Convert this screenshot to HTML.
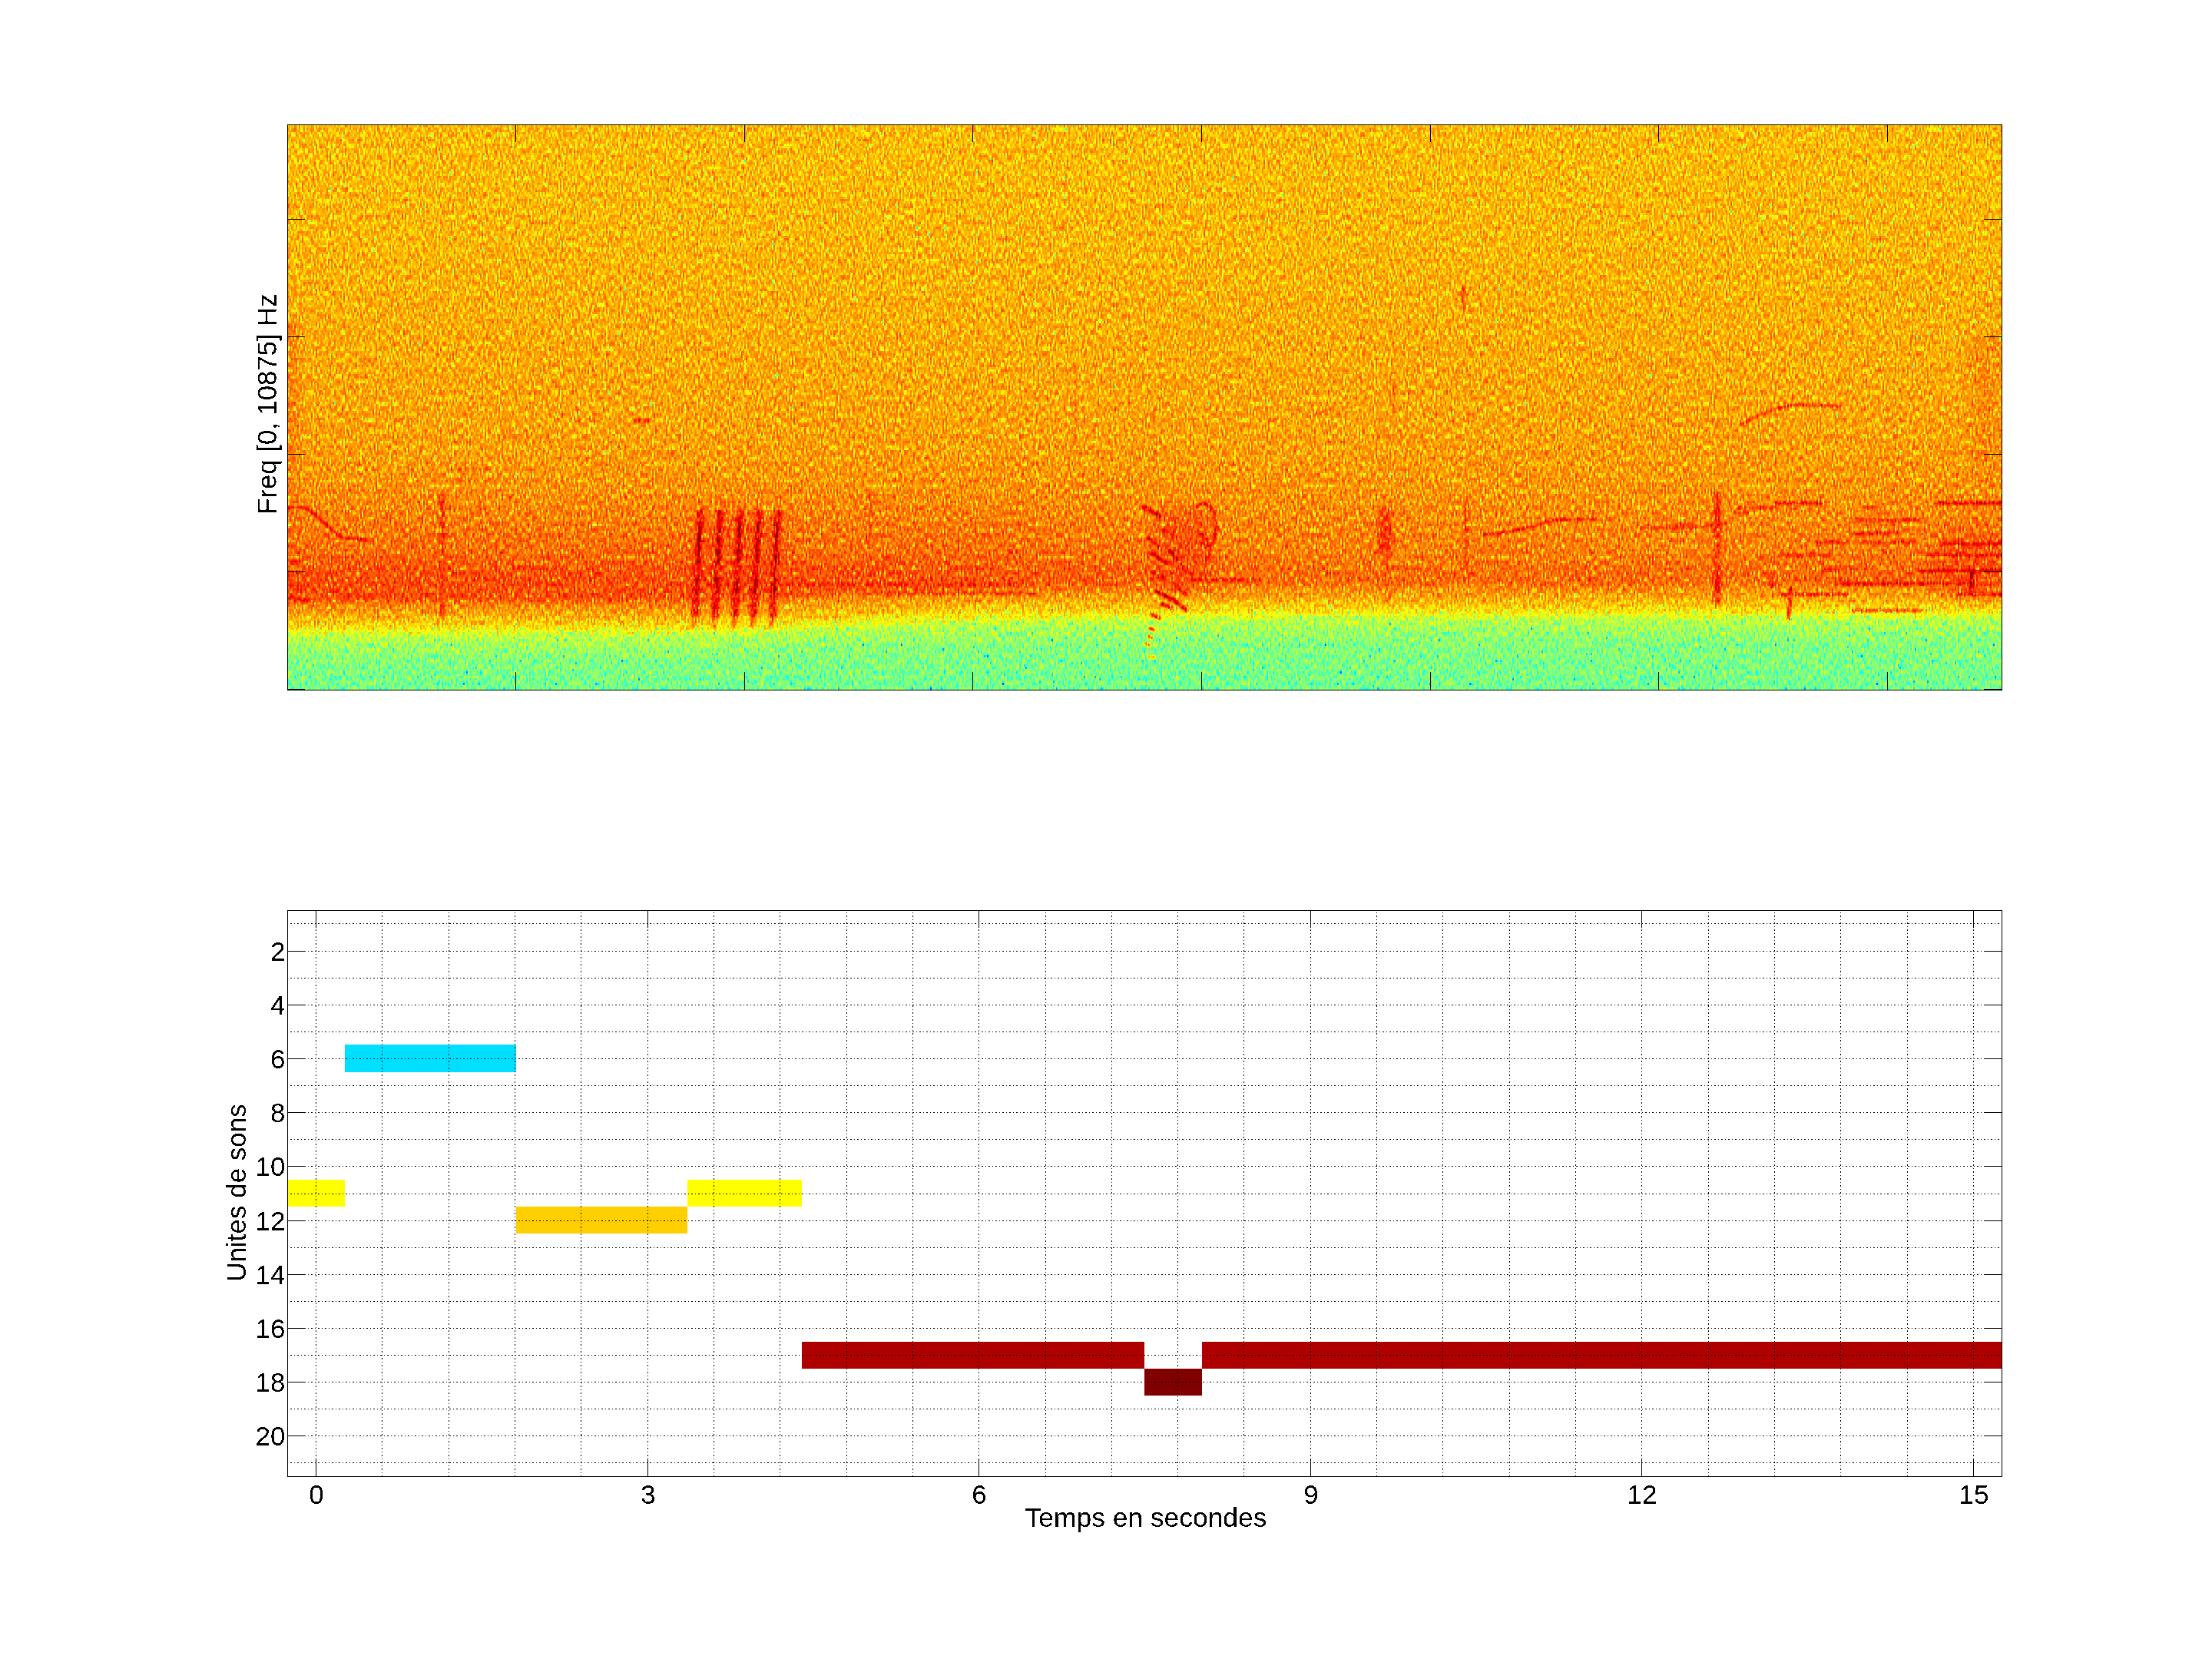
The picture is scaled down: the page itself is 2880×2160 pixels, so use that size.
<!DOCTYPE html><html><head><meta charset="utf-8"><title>Figure</title><style>
html,body{margin:0;padding:0;background:#fff;}body{width:2880px;height:2160px;overflow:hidden;}
svg{display:block;}text{font-family:"Liberation Sans",Arial,Helvetica,sans-serif;font-size:35px;fill:#000;}
</style></head><body>
<svg width="2880" height="2160" viewBox="0 0 2880 2160">
<rect x="0" y="0" width="2880" height="2160" fill="#fff"/>
<defs>
<linearGradient id="s0" x1="0" y1="0" x2="0" y2="1"><stop offset="0.0000" stop-color="#b0b0b0"/><stop offset="0.1864" stop-color="#b1b1b1"/><stop offset="0.3905" stop-color="#b4b4b4"/><stop offset="0.5265" stop-color="#b6b6b6"/><stop offset="0.5946" stop-color="#b8b8b8"/><stop offset="0.6490" stop-color="#bbbbbb"/><stop offset="0.7034" stop-color="#c0c0c0"/><stop offset="0.7578" stop-color="#c4c4c4"/><stop offset="0.7918" stop-color="#cbcbcb"/><stop offset="0.8381" stop-color="#cbcbcb"/><stop offset="0.8517" stop-color="#bdbdbd"/><stop offset="0.8680" stop-color="#b4b4b4"/><stop offset="0.8816" stop-color="#acacac"/><stop offset="0.8925" stop-color="#a2a2a2"/><stop offset="0.8993" stop-color="#989898"/><stop offset="0.9088" stop-color="#8e8e8e"/><stop offset="0.9469" stop-color="#818181"/><stop offset="1.0000" stop-color="#7c7c7c"/></linearGradient><linearGradient id="s1" x1="0" y1="0" x2="0" y2="1"><stop offset="0.0000" stop-color="#b0b0b0"/><stop offset="0.1864" stop-color="#b1b1b1"/><stop offset="0.3905" stop-color="#b4b4b4"/><stop offset="0.5265" stop-color="#b6b6b6"/><stop offset="0.5946" stop-color="#b8b8b8"/><stop offset="0.6490" stop-color="#bbbbbb"/><stop offset="0.7034" stop-color="#c0c0c0"/><stop offset="0.7578" stop-color="#c4c4c4"/><stop offset="0.7918" stop-color="#cbcbcb"/><stop offset="0.8381" stop-color="#cbcbcb"/><stop offset="0.8517" stop-color="#bdbdbd"/><stop offset="0.8680" stop-color="#b4b4b4"/><stop offset="0.8816" stop-color="#acacac"/><stop offset="0.8925" stop-color="#a2a2a2"/><stop offset="0.8993" stop-color="#989898"/><stop offset="0.9088" stop-color="#8e8e8e"/><stop offset="0.9469" stop-color="#818181"/><stop offset="1.0000" stop-color="#7c7c7c"/></linearGradient><linearGradient id="s2" x1="0" y1="0" x2="0" y2="1"><stop offset="0.0000" stop-color="#b0b0b0"/><stop offset="0.1864" stop-color="#b1b1b1"/><stop offset="0.3905" stop-color="#b4b4b4"/><stop offset="0.5265" stop-color="#b6b6b6"/><stop offset="0.5946" stop-color="#b8b8b8"/><stop offset="0.6490" stop-color="#bbbbbb"/><stop offset="0.7034" stop-color="#c0c0c0"/><stop offset="0.7578" stop-color="#c4c4c4"/><stop offset="0.7918" stop-color="#cbcbcb"/><stop offset="0.8381" stop-color="#cbcbcb"/><stop offset="0.8517" stop-color="#bdbdbd"/><stop offset="0.8680" stop-color="#b4b4b4"/><stop offset="0.8816" stop-color="#acacac"/><stop offset="0.8925" stop-color="#a2a2a2"/><stop offset="0.8993" stop-color="#989898"/><stop offset="0.9088" stop-color="#8e8e8e"/><stop offset="0.9469" stop-color="#818181"/><stop offset="1.0000" stop-color="#7c7c7c"/></linearGradient><linearGradient id="s3" x1="0" y1="0" x2="0" y2="1"><stop offset="0.0000" stop-color="#b0b0b0"/><stop offset="0.1864" stop-color="#b1b1b1"/><stop offset="0.3905" stop-color="#b4b4b4"/><stop offset="0.5265" stop-color="#b6b6b6"/><stop offset="0.5946" stop-color="#b8b8b8"/><stop offset="0.6490" stop-color="#bbbbbb"/><stop offset="0.7034" stop-color="#c0c0c0"/><stop offset="0.7578" stop-color="#c4c4c4"/><stop offset="0.7918" stop-color="#cbcbcb"/><stop offset="0.8381" stop-color="#cbcbcb"/><stop offset="0.8517" stop-color="#bdbdbd"/><stop offset="0.8680" stop-color="#b4b4b4"/><stop offset="0.8816" stop-color="#acacac"/><stop offset="0.8925" stop-color="#a2a2a2"/><stop offset="0.8993" stop-color="#989898"/><stop offset="0.9088" stop-color="#8e8e8e"/><stop offset="0.9469" stop-color="#818181"/><stop offset="1.0000" stop-color="#7c7c7c"/></linearGradient><linearGradient id="s4" x1="0" y1="0" x2="0" y2="1"><stop offset="0.0000" stop-color="#b0b0b0"/><stop offset="0.1864" stop-color="#b1b1b1"/><stop offset="0.3905" stop-color="#b4b4b4"/><stop offset="0.5265" stop-color="#b6b6b6"/><stop offset="0.5946" stop-color="#b8b8b8"/><stop offset="0.6490" stop-color="#bbbbbb"/><stop offset="0.7034" stop-color="#c0c0c0"/><stop offset="0.7578" stop-color="#c4c4c4"/><stop offset="0.7918" stop-color="#cbcbcb"/><stop offset="0.8381" stop-color="#cbcbcb"/><stop offset="0.8517" stop-color="#bdbdbd"/><stop offset="0.8680" stop-color="#b4b4b4"/><stop offset="0.8816" stop-color="#acacac"/><stop offset="0.8925" stop-color="#a2a2a2"/><stop offset="0.8993" stop-color="#989898"/><stop offset="0.9088" stop-color="#8d8d8d"/><stop offset="0.9469" stop-color="#818181"/><stop offset="1.0000" stop-color="#7c7c7c"/></linearGradient><linearGradient id="s5" x1="0" y1="0" x2="0" y2="1"><stop offset="0.0000" stop-color="#b0b0b0"/><stop offset="0.1864" stop-color="#b1b1b1"/><stop offset="0.3905" stop-color="#b4b4b4"/><stop offset="0.5265" stop-color="#b6b6b6"/><stop offset="0.5946" stop-color="#b8b8b8"/><stop offset="0.6490" stop-color="#bbbbbb"/><stop offset="0.7034" stop-color="#c0c0c0"/><stop offset="0.7578" stop-color="#c4c4c4"/><stop offset="0.7918" stop-color="#cbcbcb"/><stop offset="0.8381" stop-color="#cbcbcb"/><stop offset="0.8517" stop-color="#bdbdbd"/><stop offset="0.8680" stop-color="#b4b4b4"/><stop offset="0.8816" stop-color="#acacac"/><stop offset="0.8925" stop-color="#a2a2a2"/><stop offset="0.8993" stop-color="#989898"/><stop offset="0.9088" stop-color="#8d8d8d"/><stop offset="0.9469" stop-color="#818181"/><stop offset="1.0000" stop-color="#7c7c7c"/></linearGradient><linearGradient id="s6" x1="0" y1="0" x2="0" y2="1"><stop offset="0.0000" stop-color="#b0b0b0"/><stop offset="0.1864" stop-color="#b1b1b1"/><stop offset="0.3905" stop-color="#b4b4b4"/><stop offset="0.5265" stop-color="#b6b6b6"/><stop offset="0.5946" stop-color="#b8b8b8"/><stop offset="0.6490" stop-color="#bbbbbb"/><stop offset="0.7034" stop-color="#c0c0c0"/><stop offset="0.7578" stop-color="#c4c4c4"/><stop offset="0.7918" stop-color="#cbcbcb"/><stop offset="0.8381" stop-color="#cbcbcb"/><stop offset="0.8517" stop-color="#bcbcbc"/><stop offset="0.8680" stop-color="#b4b4b4"/><stop offset="0.8816" stop-color="#acacac"/><stop offset="0.8925" stop-color="#a2a2a2"/><stop offset="0.8993" stop-color="#989898"/><stop offset="0.9088" stop-color="#8d8d8d"/><stop offset="0.9469" stop-color="#818181"/><stop offset="1.0000" stop-color="#7c7c7c"/></linearGradient><linearGradient id="s7" x1="0" y1="0" x2="0" y2="1"><stop offset="0.0000" stop-color="#b0b0b0"/><stop offset="0.1864" stop-color="#b1b1b1"/><stop offset="0.3905" stop-color="#b4b4b4"/><stop offset="0.5265" stop-color="#b6b6b6"/><stop offset="0.5946" stop-color="#b8b8b8"/><stop offset="0.6490" stop-color="#bbbbbb"/><stop offset="0.7034" stop-color="#c0c0c0"/><stop offset="0.7578" stop-color="#c4c4c4"/><stop offset="0.7918" stop-color="#cbcbcb"/><stop offset="0.8381" stop-color="#cbcbcb"/><stop offset="0.8517" stop-color="#bcbcbc"/><stop offset="0.8680" stop-color="#b4b4b4"/><stop offset="0.8816" stop-color="#acacac"/><stop offset="0.8925" stop-color="#a1a1a1"/><stop offset="0.8993" stop-color="#989898"/><stop offset="0.9088" stop-color="#8d8d8d"/><stop offset="0.9469" stop-color="#818181"/><stop offset="1.0000" stop-color="#7c7c7c"/></linearGradient><linearGradient id="s8" x1="0" y1="0" x2="0" y2="1"><stop offset="0.0000" stop-color="#b0b0b0"/><stop offset="0.1864" stop-color="#b1b1b1"/><stop offset="0.3905" stop-color="#b4b4b4"/><stop offset="0.5265" stop-color="#b6b6b6"/><stop offset="0.5946" stop-color="#b8b8b8"/><stop offset="0.6490" stop-color="#bbbbbb"/><stop offset="0.7034" stop-color="#c0c0c0"/><stop offset="0.7578" stop-color="#c4c4c4"/><stop offset="0.7918" stop-color="#cbcbcb"/><stop offset="0.8381" stop-color="#cbcbcb"/><stop offset="0.8517" stop-color="#bcbcbc"/><stop offset="0.8680" stop-color="#b4b4b4"/><stop offset="0.8816" stop-color="#acacac"/><stop offset="0.8925" stop-color="#a1a1a1"/><stop offset="0.8993" stop-color="#979797"/><stop offset="0.9088" stop-color="#8d8d8d"/><stop offset="0.9469" stop-color="#818181"/><stop offset="1.0000" stop-color="#7c7c7c"/></linearGradient><linearGradient id="s9" x1="0" y1="0" x2="0" y2="1"><stop offset="0.0000" stop-color="#b0b0b0"/><stop offset="0.1864" stop-color="#b1b1b1"/><stop offset="0.3905" stop-color="#b4b4b4"/><stop offset="0.5265" stop-color="#b6b6b6"/><stop offset="0.5946" stop-color="#b8b8b8"/><stop offset="0.6490" stop-color="#bbbbbb"/><stop offset="0.7034" stop-color="#c0c0c0"/><stop offset="0.7578" stop-color="#c4c4c4"/><stop offset="0.7918" stop-color="#cbcbcb"/><stop offset="0.8381" stop-color="#cbcbcb"/><stop offset="0.8517" stop-color="#bcbcbc"/><stop offset="0.8680" stop-color="#b4b4b4"/><stop offset="0.8816" stop-color="#acacac"/><stop offset="0.8925" stop-color="#a1a1a1"/><stop offset="0.8993" stop-color="#979797"/><stop offset="0.9088" stop-color="#8d8d8d"/><stop offset="0.9469" stop-color="#818181"/><stop offset="1.0000" stop-color="#7c7c7c"/></linearGradient><linearGradient id="s10" x1="0" y1="0" x2="0" y2="1"><stop offset="0.0000" stop-color="#b0b0b0"/><stop offset="0.1864" stop-color="#b1b1b1"/><stop offset="0.3905" stop-color="#b4b4b4"/><stop offset="0.5265" stop-color="#b6b6b6"/><stop offset="0.5946" stop-color="#b8b8b8"/><stop offset="0.6490" stop-color="#bbbbbb"/><stop offset="0.7034" stop-color="#c0c0c0"/><stop offset="0.7578" stop-color="#c4c4c4"/><stop offset="0.7918" stop-color="#cbcbcb"/><stop offset="0.8381" stop-color="#cbcbcb"/><stop offset="0.8517" stop-color="#bcbcbc"/><stop offset="0.8680" stop-color="#b4b4b4"/><stop offset="0.8816" stop-color="#acacac"/><stop offset="0.8925" stop-color="#a1a1a1"/><stop offset="0.8993" stop-color="#979797"/><stop offset="0.9088" stop-color="#8d8d8d"/><stop offset="0.9469" stop-color="#818181"/><stop offset="1.0000" stop-color="#7c7c7c"/></linearGradient><linearGradient id="s11" x1="0" y1="0" x2="0" y2="1"><stop offset="0.0000" stop-color="#b0b0b0"/><stop offset="0.1864" stop-color="#b1b1b1"/><stop offset="0.3905" stop-color="#b4b4b4"/><stop offset="0.5265" stop-color="#b6b6b6"/><stop offset="0.5946" stop-color="#b8b8b8"/><stop offset="0.6490" stop-color="#bbbbbb"/><stop offset="0.7034" stop-color="#c0c0c0"/><stop offset="0.7578" stop-color="#c4c4c4"/><stop offset="0.7918" stop-color="#cbcbcb"/><stop offset="0.8381" stop-color="#cbcbcb"/><stop offset="0.8517" stop-color="#bcbcbc"/><stop offset="0.8680" stop-color="#b4b4b4"/><stop offset="0.8816" stop-color="#acacac"/><stop offset="0.8925" stop-color="#a1a1a1"/><stop offset="0.8993" stop-color="#979797"/><stop offset="0.9088" stop-color="#8d8d8d"/><stop offset="0.9469" stop-color="#818181"/><stop offset="1.0000" stop-color="#7c7c7c"/></linearGradient><linearGradient id="s12" x1="0" y1="0" x2="0" y2="1"><stop offset="0.0000" stop-color="#b0b0b0"/><stop offset="0.1864" stop-color="#b1b1b1"/><stop offset="0.3905" stop-color="#b4b4b4"/><stop offset="0.5265" stop-color="#b6b6b6"/><stop offset="0.5946" stop-color="#b8b8b8"/><stop offset="0.6490" stop-color="#bbbbbb"/><stop offset="0.7034" stop-color="#c0c0c0"/><stop offset="0.7578" stop-color="#c4c4c4"/><stop offset="0.7918" stop-color="#cbcbcb"/><stop offset="0.8381" stop-color="#cbcbcb"/><stop offset="0.8517" stop-color="#bcbcbc"/><stop offset="0.8680" stop-color="#b4b4b4"/><stop offset="0.8816" stop-color="#acacac"/><stop offset="0.8925" stop-color="#a1a1a1"/><stop offset="0.8993" stop-color="#979797"/><stop offset="0.9088" stop-color="#8d8d8d"/><stop offset="0.9469" stop-color="#818181"/><stop offset="1.0000" stop-color="#7c7c7c"/></linearGradient><linearGradient id="s13" x1="0" y1="0" x2="0" y2="1"><stop offset="0.0000" stop-color="#b0b0b0"/><stop offset="0.1864" stop-color="#b1b1b1"/><stop offset="0.3905" stop-color="#b4b4b4"/><stop offset="0.5265" stop-color="#b6b6b6"/><stop offset="0.5946" stop-color="#b8b8b8"/><stop offset="0.6490" stop-color="#bbbbbb"/><stop offset="0.7034" stop-color="#c0c0c0"/><stop offset="0.7578" stop-color="#c4c4c4"/><stop offset="0.7918" stop-color="#cbcbcb"/><stop offset="0.8381" stop-color="#cbcbcb"/><stop offset="0.8517" stop-color="#bcbcbc"/><stop offset="0.8680" stop-color="#b4b4b4"/><stop offset="0.8816" stop-color="#ababab"/><stop offset="0.8925" stop-color="#a1a1a1"/><stop offset="0.8993" stop-color="#979797"/><stop offset="0.9088" stop-color="#8c8c8c"/><stop offset="0.9469" stop-color="#818181"/><stop offset="1.0000" stop-color="#7c7c7c"/></linearGradient><linearGradient id="s14" x1="0" y1="0" x2="0" y2="1"><stop offset="0.0000" stop-color="#b0b0b0"/><stop offset="0.1864" stop-color="#b1b1b1"/><stop offset="0.3905" stop-color="#b4b4b4"/><stop offset="0.5265" stop-color="#b6b6b6"/><stop offset="0.5946" stop-color="#b8b8b8"/><stop offset="0.6490" stop-color="#bbbbbb"/><stop offset="0.7034" stop-color="#c0c0c0"/><stop offset="0.7578" stop-color="#c4c4c4"/><stop offset="0.7918" stop-color="#cbcbcb"/><stop offset="0.8381" stop-color="#cbcbcb"/><stop offset="0.8517" stop-color="#bbbbbb"/><stop offset="0.8680" stop-color="#b4b4b4"/><stop offset="0.8816" stop-color="#ababab"/><stop offset="0.8925" stop-color="#a1a1a1"/><stop offset="0.8993" stop-color="#979797"/><stop offset="0.9088" stop-color="#8c8c8c"/><stop offset="0.9469" stop-color="#818181"/><stop offset="1.0000" stop-color="#7c7c7c"/></linearGradient><linearGradient id="s15" x1="0" y1="0" x2="0" y2="1"><stop offset="0.0000" stop-color="#b0b0b0"/><stop offset="0.1864" stop-color="#b1b1b1"/><stop offset="0.3905" stop-color="#b4b4b4"/><stop offset="0.5265" stop-color="#b6b6b6"/><stop offset="0.5946" stop-color="#b8b8b8"/><stop offset="0.6490" stop-color="#bbbbbb"/><stop offset="0.7034" stop-color="#c0c0c0"/><stop offset="0.7578" stop-color="#c4c4c4"/><stop offset="0.7918" stop-color="#cbcbcb"/><stop offset="0.8367" stop-color="#cbcbcb"/><stop offset="0.8503" stop-color="#bcbcbc"/><stop offset="0.8667" stop-color="#b4b4b4"/><stop offset="0.8803" stop-color="#acacac"/><stop offset="0.8912" stop-color="#a1a1a1"/><stop offset="0.8980" stop-color="#979797"/><stop offset="0.9075" stop-color="#8d8d8d"/><stop offset="0.9456" stop-color="#818181"/><stop offset="1.0000" stop-color="#7c7c7c"/></linearGradient><linearGradient id="s16" x1="0" y1="0" x2="0" y2="1"><stop offset="0.0000" stop-color="#b0b0b0"/><stop offset="0.1864" stop-color="#b1b1b1"/><stop offset="0.3905" stop-color="#b4b4b4"/><stop offset="0.5265" stop-color="#b6b6b6"/><stop offset="0.5946" stop-color="#b8b8b8"/><stop offset="0.6490" stop-color="#bbbbbb"/><stop offset="0.7034" stop-color="#c0c0c0"/><stop offset="0.7578" stop-color="#c4c4c4"/><stop offset="0.7918" stop-color="#cbcbcb"/><stop offset="0.8340" stop-color="#cbcbcb"/><stop offset="0.8476" stop-color="#bdbdbd"/><stop offset="0.8639" stop-color="#b4b4b4"/><stop offset="0.8776" stop-color="#acacac"/><stop offset="0.8884" stop-color="#a2a2a2"/><stop offset="0.8952" stop-color="#989898"/><stop offset="0.9048" stop-color="#8d8d8d"/><stop offset="0.9429" stop-color="#818181"/><stop offset="1.0000" stop-color="#7c7c7c"/></linearGradient><linearGradient id="s17" x1="0" y1="0" x2="0" y2="1"><stop offset="0.0000" stop-color="#b0b0b0"/><stop offset="0.1864" stop-color="#b1b1b1"/><stop offset="0.3905" stop-color="#b4b4b4"/><stop offset="0.5265" stop-color="#b6b6b6"/><stop offset="0.5946" stop-color="#b8b8b8"/><stop offset="0.6490" stop-color="#bbbbbb"/><stop offset="0.7034" stop-color="#c0c0c0"/><stop offset="0.7578" stop-color="#c4c4c4"/><stop offset="0.7918" stop-color="#cbcbcb"/><stop offset="0.8327" stop-color="#cbcbcb"/><stop offset="0.8463" stop-color="#bcbcbc"/><stop offset="0.8626" stop-color="#b4b4b4"/><stop offset="0.8762" stop-color="#acacac"/><stop offset="0.8871" stop-color="#a1a1a1"/><stop offset="0.8939" stop-color="#979797"/><stop offset="0.9034" stop-color="#8d8d8d"/><stop offset="0.9415" stop-color="#818181"/><stop offset="1.0000" stop-color="#7c7c7c"/></linearGradient><linearGradient id="s18" x1="0" y1="0" x2="0" y2="1"><stop offset="0.0000" stop-color="#b0b0b0"/><stop offset="0.1864" stop-color="#b1b1b1"/><stop offset="0.3905" stop-color="#b4b4b4"/><stop offset="0.5265" stop-color="#b6b6b6"/><stop offset="0.5946" stop-color="#b8b8b8"/><stop offset="0.6490" stop-color="#bbbbbb"/><stop offset="0.7034" stop-color="#c0c0c0"/><stop offset="0.7578" stop-color="#c4c4c4"/><stop offset="0.7918" stop-color="#cbcbcb"/><stop offset="0.8299" stop-color="#cbcbcb"/><stop offset="0.8435" stop-color="#bbbbbb"/><stop offset="0.8599" stop-color="#b4b4b4"/><stop offset="0.8735" stop-color="#ababab"/><stop offset="0.8844" stop-color="#a1a1a1"/><stop offset="0.8912" stop-color="#969696"/><stop offset="0.9007" stop-color="#8c8c8c"/><stop offset="0.9388" stop-color="#818181"/><stop offset="1.0000" stop-color="#7c7c7c"/></linearGradient><linearGradient id="s19" x1="0" y1="0" x2="0" y2="1"><stop offset="0.0000" stop-color="#b0b0b0"/><stop offset="0.1864" stop-color="#b1b1b1"/><stop offset="0.3905" stop-color="#b4b4b4"/><stop offset="0.5265" stop-color="#b6b6b6"/><stop offset="0.5946" stop-color="#b8b8b8"/><stop offset="0.6490" stop-color="#bbbbbb"/><stop offset="0.7034" stop-color="#c0c0c0"/><stop offset="0.7578" stop-color="#c4c4c4"/><stop offset="0.7918" stop-color="#cbcbcb"/><stop offset="0.8259" stop-color="#cbcbcb"/><stop offset="0.8395" stop-color="#bdbdbd"/><stop offset="0.8558" stop-color="#b4b4b4"/><stop offset="0.8694" stop-color="#acacac"/><stop offset="0.8803" stop-color="#a2a2a2"/><stop offset="0.8871" stop-color="#989898"/><stop offset="0.8966" stop-color="#8d8d8d"/><stop offset="0.9347" stop-color="#818181"/><stop offset="1.0000" stop-color="#7c7c7c"/></linearGradient><linearGradient id="s20" x1="0" y1="0" x2="0" y2="1"><stop offset="0.0000" stop-color="#b0b0b0"/><stop offset="0.1864" stop-color="#b1b1b1"/><stop offset="0.3905" stop-color="#b4b4b4"/><stop offset="0.5265" stop-color="#b6b6b6"/><stop offset="0.5946" stop-color="#b8b8b8"/><stop offset="0.6490" stop-color="#bbbbbb"/><stop offset="0.7034" stop-color="#c0c0c0"/><stop offset="0.7578" stop-color="#c4c4c4"/><stop offset="0.7918" stop-color="#cbcbcb"/><stop offset="0.8231" stop-color="#cbcbcb"/><stop offset="0.8367" stop-color="#bcbcbc"/><stop offset="0.8531" stop-color="#b4b4b4"/><stop offset="0.8667" stop-color="#acacac"/><stop offset="0.8776" stop-color="#a1a1a1"/><stop offset="0.8844" stop-color="#979797"/><stop offset="0.8939" stop-color="#8d8d8d"/><stop offset="0.9320" stop-color="#818181"/><stop offset="1.0000" stop-color="#7c7c7c"/></linearGradient><linearGradient id="s21" x1="0" y1="0" x2="0" y2="1"><stop offset="0.0000" stop-color="#b0b0b0"/><stop offset="0.1864" stop-color="#b1b1b1"/><stop offset="0.3905" stop-color="#b4b4b4"/><stop offset="0.5265" stop-color="#b6b6b6"/><stop offset="0.5946" stop-color="#b8b8b8"/><stop offset="0.6490" stop-color="#bbbbbb"/><stop offset="0.7034" stop-color="#c0c0c0"/><stop offset="0.7578" stop-color="#c4c4c4"/><stop offset="0.7918" stop-color="#cacaca"/><stop offset="0.8204" stop-color="#cacaca"/><stop offset="0.8340" stop-color="#bdbdbd"/><stop offset="0.8503" stop-color="#b4b4b4"/><stop offset="0.8639" stop-color="#acacac"/><stop offset="0.8748" stop-color="#a2a2a2"/><stop offset="0.8816" stop-color="#989898"/><stop offset="0.8912" stop-color="#8e8e8e"/><stop offset="0.9293" stop-color="#818181"/><stop offset="1.0000" stop-color="#7c7c7c"/></linearGradient><linearGradient id="s22" x1="0" y1="0" x2="0" y2="1"><stop offset="0.0000" stop-color="#b0b0b0"/><stop offset="0.1864" stop-color="#b1b1b1"/><stop offset="0.3905" stop-color="#b4b4b4"/><stop offset="0.5265" stop-color="#b6b6b6"/><stop offset="0.5946" stop-color="#b8b8b8"/><stop offset="0.6490" stop-color="#bbbbbb"/><stop offset="0.7034" stop-color="#c0c0c0"/><stop offset="0.7578" stop-color="#c4c4c4"/><stop offset="0.7918" stop-color="#cacaca"/><stop offset="0.8190" stop-color="#cacaca"/><stop offset="0.8327" stop-color="#bcbcbc"/><stop offset="0.8490" stop-color="#b4b4b4"/><stop offset="0.8626" stop-color="#acacac"/><stop offset="0.8735" stop-color="#a1a1a1"/><stop offset="0.8803" stop-color="#989898"/><stop offset="0.8898" stop-color="#8d8d8d"/><stop offset="0.9279" stop-color="#818181"/><stop offset="1.0000" stop-color="#7c7c7c"/></linearGradient><linearGradient id="s23" x1="0" y1="0" x2="0" y2="1"><stop offset="0.0000" stop-color="#b0b0b0"/><stop offset="0.1864" stop-color="#b1b1b1"/><stop offset="0.3905" stop-color="#b4b4b4"/><stop offset="0.5265" stop-color="#b6b6b6"/><stop offset="0.5946" stop-color="#b8b8b8"/><stop offset="0.6490" stop-color="#bbbbbb"/><stop offset="0.7034" stop-color="#c0c0c0"/><stop offset="0.7578" stop-color="#c4c4c4"/><stop offset="0.7918" stop-color="#c9c9c9"/><stop offset="0.8177" stop-color="#c9c9c9"/><stop offset="0.8313" stop-color="#bcbcbc"/><stop offset="0.8476" stop-color="#b4b4b4"/><stop offset="0.8612" stop-color="#acacac"/><stop offset="0.8721" stop-color="#a1a1a1"/><stop offset="0.8789" stop-color="#979797"/><stop offset="0.8884" stop-color="#8d8d8d"/><stop offset="0.9265" stop-color="#818181"/><stop offset="1.0000" stop-color="#7c7c7c"/></linearGradient><linearGradient id="s24" x1="0" y1="0" x2="0" y2="1"><stop offset="0.0000" stop-color="#b0b0b0"/><stop offset="0.1864" stop-color="#b1b1b1"/><stop offset="0.3905" stop-color="#b4b4b4"/><stop offset="0.5265" stop-color="#b6b6b6"/><stop offset="0.5946" stop-color="#b8b8b8"/><stop offset="0.6490" stop-color="#bbbbbb"/><stop offset="0.7034" stop-color="#c0c0c0"/><stop offset="0.7578" stop-color="#c4c4c4"/><stop offset="0.7918" stop-color="#c9c9c9"/><stop offset="0.8150" stop-color="#c9c9c9"/><stop offset="0.8286" stop-color="#bdbdbd"/><stop offset="0.8449" stop-color="#b4b4b4"/><stop offset="0.8585" stop-color="#acacac"/><stop offset="0.8694" stop-color="#a2a2a2"/><stop offset="0.8762" stop-color="#989898"/><stop offset="0.8857" stop-color="#8d8d8d"/><stop offset="0.9238" stop-color="#818181"/><stop offset="1.0000" stop-color="#7c7c7c"/></linearGradient><linearGradient id="s25" x1="0" y1="0" x2="0" y2="1"><stop offset="0.0000" stop-color="#b0b0b0"/><stop offset="0.1864" stop-color="#b1b1b1"/><stop offset="0.3905" stop-color="#b4b4b4"/><stop offset="0.5265" stop-color="#b6b6b6"/><stop offset="0.5946" stop-color="#b8b8b8"/><stop offset="0.6490" stop-color="#bbbbbb"/><stop offset="0.7034" stop-color="#c0c0c0"/><stop offset="0.7578" stop-color="#c4c4c4"/><stop offset="0.7918" stop-color="#c8c8c8"/><stop offset="0.8136" stop-color="#c8c8c8"/><stop offset="0.8272" stop-color="#bdbdbd"/><stop offset="0.8435" stop-color="#b4b4b4"/><stop offset="0.8571" stop-color="#acacac"/><stop offset="0.8680" stop-color="#a2a2a2"/><stop offset="0.8748" stop-color="#989898"/><stop offset="0.8844" stop-color="#8e8e8e"/><stop offset="0.9224" stop-color="#818181"/><stop offset="1.0000" stop-color="#7c7c7c"/></linearGradient><linearGradient id="s26" x1="0" y1="0" x2="0" y2="1"><stop offset="0.0000" stop-color="#b0b0b0"/><stop offset="0.1864" stop-color="#b1b1b1"/><stop offset="0.3905" stop-color="#b4b4b4"/><stop offset="0.5265" stop-color="#b6b6b6"/><stop offset="0.5946" stop-color="#b8b8b8"/><stop offset="0.6490" stop-color="#bbbbbb"/><stop offset="0.7034" stop-color="#bfbfbf"/><stop offset="0.7578" stop-color="#c3c3c3"/><stop offset="0.7918" stop-color="#c8c8c8"/><stop offset="0.8136" stop-color="#c8c8c8"/><stop offset="0.8272" stop-color="#bcbcbc"/><stop offset="0.8435" stop-color="#b4b4b4"/><stop offset="0.8571" stop-color="#acacac"/><stop offset="0.8680" stop-color="#a1a1a1"/><stop offset="0.8748" stop-color="#989898"/><stop offset="0.8844" stop-color="#8d8d8d"/><stop offset="0.9224" stop-color="#818181"/><stop offset="1.0000" stop-color="#7c7c7c"/></linearGradient><linearGradient id="s27" x1="0" y1="0" x2="0" y2="1"><stop offset="0.0000" stop-color="#b0b0b0"/><stop offset="0.1864" stop-color="#b1b1b1"/><stop offset="0.3905" stop-color="#b4b4b4"/><stop offset="0.5265" stop-color="#b6b6b6"/><stop offset="0.5946" stop-color="#b8b8b8"/><stop offset="0.6490" stop-color="#bbbbbb"/><stop offset="0.7034" stop-color="#bfbfbf"/><stop offset="0.7578" stop-color="#c2c2c2"/><stop offset="0.7918" stop-color="#c8c8c8"/><stop offset="0.8136" stop-color="#c8c8c8"/><stop offset="0.8272" stop-color="#bcbcbc"/><stop offset="0.8435" stop-color="#b4b4b4"/><stop offset="0.8571" stop-color="#acacac"/><stop offset="0.8680" stop-color="#a1a1a1"/><stop offset="0.8748" stop-color="#979797"/><stop offset="0.8844" stop-color="#8d8d8d"/><stop offset="0.9224" stop-color="#818181"/><stop offset="1.0000" stop-color="#7c7c7c"/></linearGradient><linearGradient id="s28" x1="0" y1="0" x2="0" y2="1"><stop offset="0.0000" stop-color="#b0b0b0"/><stop offset="0.1864" stop-color="#b1b1b1"/><stop offset="0.3905" stop-color="#b4b4b4"/><stop offset="0.5265" stop-color="#b6b6b6"/><stop offset="0.5946" stop-color="#b8b8b8"/><stop offset="0.6490" stop-color="#bbbbbb"/><stop offset="0.7034" stop-color="#bebebe"/><stop offset="0.7578" stop-color="#c2c2c2"/><stop offset="0.7918" stop-color="#c7c7c7"/><stop offset="0.8136" stop-color="#c7c7c7"/><stop offset="0.8272" stop-color="#bcbcbc"/><stop offset="0.8435" stop-color="#b4b4b4"/><stop offset="0.8571" stop-color="#ababab"/><stop offset="0.8680" stop-color="#a1a1a1"/><stop offset="0.8748" stop-color="#979797"/><stop offset="0.8844" stop-color="#8c8c8c"/><stop offset="0.9224" stop-color="#818181"/><stop offset="1.0000" stop-color="#7c7c7c"/></linearGradient><linearGradient id="s29" x1="0" y1="0" x2="0" y2="1"><stop offset="0.0000" stop-color="#b0b0b0"/><stop offset="0.1864" stop-color="#b1b1b1"/><stop offset="0.3905" stop-color="#b4b4b4"/><stop offset="0.5265" stop-color="#b6b6b6"/><stop offset="0.5946" stop-color="#b8b8b8"/><stop offset="0.6490" stop-color="#bbbbbb"/><stop offset="0.7034" stop-color="#bebebe"/><stop offset="0.7578" stop-color="#c1c1c1"/><stop offset="0.7918" stop-color="#c6c6c6"/><stop offset="0.8122" stop-color="#c6c6c6"/><stop offset="0.8259" stop-color="#bcbcbc"/><stop offset="0.8422" stop-color="#b4b4b4"/><stop offset="0.8558" stop-color="#acacac"/><stop offset="0.8667" stop-color="#a1a1a1"/><stop offset="0.8735" stop-color="#979797"/><stop offset="0.8830" stop-color="#8d8d8d"/><stop offset="0.9211" stop-color="#818181"/><stop offset="1.0000" stop-color="#7c7c7c"/></linearGradient><linearGradient id="s30" x1="0" y1="0" x2="0" y2="1"><stop offset="0.0000" stop-color="#b0b0b0"/><stop offset="0.1864" stop-color="#b1b1b1"/><stop offset="0.3905" stop-color="#b4b4b4"/><stop offset="0.5265" stop-color="#b6b6b6"/><stop offset="0.5946" stop-color="#b8b8b8"/><stop offset="0.6490" stop-color="#bababa"/><stop offset="0.7034" stop-color="#bebebe"/><stop offset="0.7578" stop-color="#c0c0c0"/><stop offset="0.7918" stop-color="#c6c6c6"/><stop offset="0.8109" stop-color="#c6c6c6"/><stop offset="0.8245" stop-color="#bcbcbc"/><stop offset="0.8408" stop-color="#b4b4b4"/><stop offset="0.8544" stop-color="#acacac"/><stop offset="0.8653" stop-color="#a2a2a2"/><stop offset="0.8721" stop-color="#989898"/><stop offset="0.8816" stop-color="#8d8d8d"/><stop offset="0.9197" stop-color="#818181"/><stop offset="1.0000" stop-color="#7c7c7c"/></linearGradient><linearGradient id="s31" x1="0" y1="0" x2="0" y2="1"><stop offset="0.0000" stop-color="#b0b0b0"/><stop offset="0.1864" stop-color="#b1b1b1"/><stop offset="0.3905" stop-color="#b4b4b4"/><stop offset="0.5265" stop-color="#b6b6b6"/><stop offset="0.5946" stop-color="#b8b8b8"/><stop offset="0.6490" stop-color="#bababa"/><stop offset="0.7034" stop-color="#bdbdbd"/><stop offset="0.7578" stop-color="#c0c0c0"/><stop offset="0.7918" stop-color="#c5c5c5"/><stop offset="0.8095" stop-color="#c5c5c5"/><stop offset="0.8231" stop-color="#bcbcbc"/><stop offset="0.8395" stop-color="#b4b4b4"/><stop offset="0.8531" stop-color="#acacac"/><stop offset="0.8639" stop-color="#a2a2a2"/><stop offset="0.8707" stop-color="#989898"/><stop offset="0.8803" stop-color="#8e8e8e"/><stop offset="0.9184" stop-color="#818181"/><stop offset="1.0000" stop-color="#7c7c7c"/></linearGradient><linearGradient id="s32" x1="0" y1="0" x2="0" y2="1"><stop offset="0.0000" stop-color="#b0b0b0"/><stop offset="0.1864" stop-color="#b1b1b1"/><stop offset="0.3905" stop-color="#b4b4b4"/><stop offset="0.5265" stop-color="#b6b6b6"/><stop offset="0.5946" stop-color="#b8b8b8"/><stop offset="0.6490" stop-color="#bababa"/><stop offset="0.7034" stop-color="#bdbdbd"/><stop offset="0.7578" stop-color="#bfbfbf"/><stop offset="0.7918" stop-color="#c4c4c4"/><stop offset="0.8095" stop-color="#c4c4c4"/><stop offset="0.8231" stop-color="#bcbcbc"/><stop offset="0.8395" stop-color="#b4b4b4"/><stop offset="0.8531" stop-color="#ababab"/><stop offset="0.8639" stop-color="#a1a1a1"/><stop offset="0.8707" stop-color="#979797"/><stop offset="0.8803" stop-color="#8c8c8c"/><stop offset="0.9184" stop-color="#818181"/><stop offset="1.0000" stop-color="#7c7c7c"/></linearGradient><linearGradient id="s33" x1="0" y1="0" x2="0" y2="1"><stop offset="0.0000" stop-color="#b0b0b0"/><stop offset="0.1864" stop-color="#b1b1b1"/><stop offset="0.3905" stop-color="#b4b4b4"/><stop offset="0.5265" stop-color="#b6b6b6"/><stop offset="0.5946" stop-color="#b8b8b8"/><stop offset="0.6490" stop-color="#bababa"/><stop offset="0.7034" stop-color="#bdbdbd"/><stop offset="0.7578" stop-color="#bfbfbf"/><stop offset="0.7918" stop-color="#c4c4c4"/><stop offset="0.8082" stop-color="#c4c4c4"/><stop offset="0.8218" stop-color="#bcbcbc"/><stop offset="0.8381" stop-color="#b4b4b4"/><stop offset="0.8517" stop-color="#acacac"/><stop offset="0.8626" stop-color="#a2a2a2"/><stop offset="0.8694" stop-color="#989898"/><stop offset="0.8789" stop-color="#8e8e8e"/><stop offset="0.9170" stop-color="#818181"/><stop offset="1.0000" stop-color="#7c7c7c"/></linearGradient><linearGradient id="s34" x1="0" y1="0" x2="0" y2="1"><stop offset="0.0000" stop-color="#b0b0b0"/><stop offset="0.1864" stop-color="#b1b1b1"/><stop offset="0.3905" stop-color="#b4b4b4"/><stop offset="0.5265" stop-color="#b6b6b6"/><stop offset="0.5946" stop-color="#b8b8b8"/><stop offset="0.6490" stop-color="#bababa"/><stop offset="0.7034" stop-color="#bdbdbd"/><stop offset="0.7578" stop-color="#bfbfbf"/><stop offset="0.7918" stop-color="#c4c4c4"/><stop offset="0.8082" stop-color="#c4c4c4"/><stop offset="0.8218" stop-color="#bcbcbc"/><stop offset="0.8381" stop-color="#b4b4b4"/><stop offset="0.8517" stop-color="#acacac"/><stop offset="0.8626" stop-color="#a2a2a2"/><stop offset="0.8694" stop-color="#989898"/><stop offset="0.8789" stop-color="#8e8e8e"/><stop offset="0.9170" stop-color="#818181"/><stop offset="1.0000" stop-color="#7c7c7c"/></linearGradient><linearGradient id="s35" x1="0" y1="0" x2="0" y2="1"><stop offset="0.0000" stop-color="#b0b0b0"/><stop offset="0.1864" stop-color="#b1b1b1"/><stop offset="0.3905" stop-color="#b4b4b4"/><stop offset="0.5265" stop-color="#b6b6b6"/><stop offset="0.5946" stop-color="#b8b8b8"/><stop offset="0.6490" stop-color="#bababa"/><stop offset="0.7034" stop-color="#bdbdbd"/><stop offset="0.7578" stop-color="#bfbfbf"/><stop offset="0.7918" stop-color="#c4c4c4"/><stop offset="0.8082" stop-color="#c4c4c4"/><stop offset="0.8218" stop-color="#bcbcbc"/><stop offset="0.8381" stop-color="#b4b4b4"/><stop offset="0.8517" stop-color="#acacac"/><stop offset="0.8626" stop-color="#a2a2a2"/><stop offset="0.8694" stop-color="#989898"/><stop offset="0.8789" stop-color="#8e8e8e"/><stop offset="0.9170" stop-color="#818181"/><stop offset="1.0000" stop-color="#7c7c7c"/></linearGradient><linearGradient id="s36" x1="0" y1="0" x2="0" y2="1"><stop offset="0.0000" stop-color="#b0b0b0"/><stop offset="0.1864" stop-color="#b1b1b1"/><stop offset="0.3905" stop-color="#b4b4b4"/><stop offset="0.5265" stop-color="#b6b6b6"/><stop offset="0.5946" stop-color="#b8b8b8"/><stop offset="0.6490" stop-color="#bababa"/><stop offset="0.7034" stop-color="#bdbdbd"/><stop offset="0.7578" stop-color="#bfbfbf"/><stop offset="0.7918" stop-color="#c4c4c4"/><stop offset="0.8082" stop-color="#c4c4c4"/><stop offset="0.8218" stop-color="#bcbcbc"/><stop offset="0.8381" stop-color="#b4b4b4"/><stop offset="0.8517" stop-color="#acacac"/><stop offset="0.8626" stop-color="#a2a2a2"/><stop offset="0.8694" stop-color="#989898"/><stop offset="0.8789" stop-color="#8d8d8d"/><stop offset="0.9170" stop-color="#818181"/><stop offset="1.0000" stop-color="#7c7c7c"/></linearGradient><linearGradient id="s37" x1="0" y1="0" x2="0" y2="1"><stop offset="0.0000" stop-color="#b0b0b0"/><stop offset="0.1864" stop-color="#b1b1b1"/><stop offset="0.3905" stop-color="#b4b4b4"/><stop offset="0.5265" stop-color="#b6b6b6"/><stop offset="0.5946" stop-color="#b8b8b8"/><stop offset="0.6490" stop-color="#bababa"/><stop offset="0.7034" stop-color="#bdbdbd"/><stop offset="0.7578" stop-color="#bfbfbf"/><stop offset="0.7918" stop-color="#c4c4c4"/><stop offset="0.8082" stop-color="#c4c4c4"/><stop offset="0.8218" stop-color="#bcbcbc"/><stop offset="0.8381" stop-color="#b4b4b4"/><stop offset="0.8517" stop-color="#acacac"/><stop offset="0.8626" stop-color="#a2a2a2"/><stop offset="0.8694" stop-color="#989898"/><stop offset="0.8789" stop-color="#8d8d8d"/><stop offset="0.9170" stop-color="#818181"/><stop offset="1.0000" stop-color="#7c7c7c"/></linearGradient><linearGradient id="s38" x1="0" y1="0" x2="0" y2="1"><stop offset="0.0000" stop-color="#b0b0b0"/><stop offset="0.1864" stop-color="#b1b1b1"/><stop offset="0.3905" stop-color="#b4b4b4"/><stop offset="0.5265" stop-color="#b6b6b6"/><stop offset="0.5946" stop-color="#b8b8b8"/><stop offset="0.6490" stop-color="#bababa"/><stop offset="0.7034" stop-color="#bdbdbd"/><stop offset="0.7578" stop-color="#bfbfbf"/><stop offset="0.7918" stop-color="#c4c4c4"/><stop offset="0.8082" stop-color="#c4c4c4"/><stop offset="0.8218" stop-color="#bcbcbc"/><stop offset="0.8381" stop-color="#b4b4b4"/><stop offset="0.8517" stop-color="#acacac"/><stop offset="0.8626" stop-color="#a2a2a2"/><stop offset="0.8694" stop-color="#989898"/><stop offset="0.8789" stop-color="#8d8d8d"/><stop offset="0.9170" stop-color="#818181"/><stop offset="1.0000" stop-color="#7c7c7c"/></linearGradient><linearGradient id="s39" x1="0" y1="0" x2="0" y2="1"><stop offset="0.0000" stop-color="#b0b0b0"/><stop offset="0.1864" stop-color="#b1b1b1"/><stop offset="0.3905" stop-color="#b4b4b4"/><stop offset="0.5265" stop-color="#b6b6b6"/><stop offset="0.5946" stop-color="#b8b8b8"/><stop offset="0.6490" stop-color="#bababa"/><stop offset="0.7034" stop-color="#bdbdbd"/><stop offset="0.7578" stop-color="#bfbfbf"/><stop offset="0.7918" stop-color="#c4c4c4"/><stop offset="0.8082" stop-color="#c4c4c4"/><stop offset="0.8218" stop-color="#bcbcbc"/><stop offset="0.8381" stop-color="#b4b4b4"/><stop offset="0.8517" stop-color="#acacac"/><stop offset="0.8626" stop-color="#a2a2a2"/><stop offset="0.8694" stop-color="#989898"/><stop offset="0.8789" stop-color="#8d8d8d"/><stop offset="0.9170" stop-color="#818181"/><stop offset="1.0000" stop-color="#7c7c7c"/></linearGradient><linearGradient id="s40" x1="0" y1="0" x2="0" y2="1"><stop offset="0.0000" stop-color="#b0b0b0"/><stop offset="0.1864" stop-color="#b1b1b1"/><stop offset="0.3905" stop-color="#b4b4b4"/><stop offset="0.5265" stop-color="#b6b6b6"/><stop offset="0.5946" stop-color="#b8b8b8"/><stop offset="0.6490" stop-color="#bababa"/><stop offset="0.7034" stop-color="#bdbdbd"/><stop offset="0.7578" stop-color="#bfbfbf"/><stop offset="0.7918" stop-color="#c4c4c4"/><stop offset="0.8082" stop-color="#c4c4c4"/><stop offset="0.8218" stop-color="#bcbcbc"/><stop offset="0.8381" stop-color="#b4b4b4"/><stop offset="0.8517" stop-color="#acacac"/><stop offset="0.8626" stop-color="#a2a2a2"/><stop offset="0.8694" stop-color="#989898"/><stop offset="0.8789" stop-color="#8d8d8d"/><stop offset="0.9170" stop-color="#818181"/><stop offset="1.0000" stop-color="#7c7c7c"/></linearGradient><linearGradient id="s41" x1="0" y1="0" x2="0" y2="1"><stop offset="0.0000" stop-color="#b0b0b0"/><stop offset="0.1864" stop-color="#b1b1b1"/><stop offset="0.3905" stop-color="#b4b4b4"/><stop offset="0.5265" stop-color="#b6b6b6"/><stop offset="0.5946" stop-color="#b8b8b8"/><stop offset="0.6490" stop-color="#bababa"/><stop offset="0.7034" stop-color="#bdbdbd"/><stop offset="0.7578" stop-color="#bfbfbf"/><stop offset="0.7918" stop-color="#c4c4c4"/><stop offset="0.8082" stop-color="#c4c4c4"/><stop offset="0.8218" stop-color="#bcbcbc"/><stop offset="0.8381" stop-color="#b4b4b4"/><stop offset="0.8517" stop-color="#acacac"/><stop offset="0.8626" stop-color="#a2a2a2"/><stop offset="0.8694" stop-color="#989898"/><stop offset="0.8789" stop-color="#8d8d8d"/><stop offset="0.9170" stop-color="#818181"/><stop offset="1.0000" stop-color="#7c7c7c"/></linearGradient><linearGradient id="s42" x1="0" y1="0" x2="0" y2="1"><stop offset="0.0000" stop-color="#b0b0b0"/><stop offset="0.1864" stop-color="#b1b1b1"/><stop offset="0.3905" stop-color="#b4b4b4"/><stop offset="0.5265" stop-color="#b6b6b6"/><stop offset="0.5946" stop-color="#b8b8b8"/><stop offset="0.6490" stop-color="#bababa"/><stop offset="0.7034" stop-color="#bdbdbd"/><stop offset="0.7578" stop-color="#bfbfbf"/><stop offset="0.7918" stop-color="#c4c4c4"/><stop offset="0.8082" stop-color="#c4c4c4"/><stop offset="0.8218" stop-color="#bcbcbc"/><stop offset="0.8381" stop-color="#b4b4b4"/><stop offset="0.8517" stop-color="#acacac"/><stop offset="0.8626" stop-color="#a1a1a1"/><stop offset="0.8694" stop-color="#989898"/><stop offset="0.8789" stop-color="#8d8d8d"/><stop offset="0.9170" stop-color="#818181"/><stop offset="1.0000" stop-color="#7c7c7c"/></linearGradient><linearGradient id="s43" x1="0" y1="0" x2="0" y2="1"><stop offset="0.0000" stop-color="#b0b0b0"/><stop offset="0.1864" stop-color="#b1b1b1"/><stop offset="0.3905" stop-color="#b4b4b4"/><stop offset="0.5265" stop-color="#b6b6b6"/><stop offset="0.5946" stop-color="#b8b8b8"/><stop offset="0.6490" stop-color="#bababa"/><stop offset="0.7034" stop-color="#bdbdbd"/><stop offset="0.7578" stop-color="#bfbfbf"/><stop offset="0.7918" stop-color="#c4c4c4"/><stop offset="0.8082" stop-color="#c4c4c4"/><stop offset="0.8218" stop-color="#bcbcbc"/><stop offset="0.8381" stop-color="#b4b4b4"/><stop offset="0.8517" stop-color="#acacac"/><stop offset="0.8626" stop-color="#a1a1a1"/><stop offset="0.8694" stop-color="#989898"/><stop offset="0.8789" stop-color="#8d8d8d"/><stop offset="0.9170" stop-color="#818181"/><stop offset="1.0000" stop-color="#7c7c7c"/></linearGradient><linearGradient id="s44" x1="0" y1="0" x2="0" y2="1"><stop offset="0.0000" stop-color="#b0b0b0"/><stop offset="0.1864" stop-color="#b1b1b1"/><stop offset="0.3905" stop-color="#b4b4b4"/><stop offset="0.5265" stop-color="#b6b6b6"/><stop offset="0.5946" stop-color="#b8b8b8"/><stop offset="0.6490" stop-color="#bababa"/><stop offset="0.7034" stop-color="#bdbdbd"/><stop offset="0.7578" stop-color="#bfbfbf"/><stop offset="0.7918" stop-color="#c4c4c4"/><stop offset="0.8082" stop-color="#c4c4c4"/><stop offset="0.8218" stop-color="#bcbcbc"/><stop offset="0.8381" stop-color="#b4b4b4"/><stop offset="0.8517" stop-color="#acacac"/><stop offset="0.8626" stop-color="#a1a1a1"/><stop offset="0.8694" stop-color="#989898"/><stop offset="0.8789" stop-color="#8d8d8d"/><stop offset="0.9170" stop-color="#818181"/><stop offset="1.0000" stop-color="#7c7c7c"/></linearGradient><linearGradient id="s45" x1="0" y1="0" x2="0" y2="1"><stop offset="0.0000" stop-color="#b0b0b0"/><stop offset="0.1864" stop-color="#b1b1b1"/><stop offset="0.3905" stop-color="#b4b4b4"/><stop offset="0.5265" stop-color="#b6b6b6"/><stop offset="0.5946" stop-color="#b8b8b8"/><stop offset="0.6490" stop-color="#bababa"/><stop offset="0.7034" stop-color="#bdbdbd"/><stop offset="0.7578" stop-color="#bfbfbf"/><stop offset="0.7918" stop-color="#c4c4c4"/><stop offset="0.8082" stop-color="#c4c4c4"/><stop offset="0.8218" stop-color="#bcbcbc"/><stop offset="0.8381" stop-color="#b4b4b4"/><stop offset="0.8517" stop-color="#acacac"/><stop offset="0.8626" stop-color="#a1a1a1"/><stop offset="0.8694" stop-color="#979797"/><stop offset="0.8789" stop-color="#8d8d8d"/><stop offset="0.9170" stop-color="#818181"/><stop offset="1.0000" stop-color="#7c7c7c"/></linearGradient><linearGradient id="s46" x1="0" y1="0" x2="0" y2="1"><stop offset="0.0000" stop-color="#b0b0b0"/><stop offset="0.1864" stop-color="#b1b1b1"/><stop offset="0.3905" stop-color="#b4b4b4"/><stop offset="0.5265" stop-color="#b6b6b6"/><stop offset="0.5946" stop-color="#b8b8b8"/><stop offset="0.6490" stop-color="#bababa"/><stop offset="0.7034" stop-color="#bdbdbd"/><stop offset="0.7578" stop-color="#bfbfbf"/><stop offset="0.7918" stop-color="#c4c4c4"/><stop offset="0.8082" stop-color="#c4c4c4"/><stop offset="0.8218" stop-color="#bcbcbc"/><stop offset="0.8381" stop-color="#b4b4b4"/><stop offset="0.8517" stop-color="#acacac"/><stop offset="0.8626" stop-color="#a1a1a1"/><stop offset="0.8694" stop-color="#979797"/><stop offset="0.8789" stop-color="#8d8d8d"/><stop offset="0.9170" stop-color="#818181"/><stop offset="1.0000" stop-color="#7c7c7c"/></linearGradient><linearGradient id="s47" x1="0" y1="0" x2="0" y2="1"><stop offset="0.0000" stop-color="#b0b0b0"/><stop offset="0.1864" stop-color="#b1b1b1"/><stop offset="0.3905" stop-color="#b4b4b4"/><stop offset="0.5265" stop-color="#b6b6b6"/><stop offset="0.5946" stop-color="#b8b8b8"/><stop offset="0.6490" stop-color="#bababa"/><stop offset="0.7034" stop-color="#bdbdbd"/><stop offset="0.7578" stop-color="#bfbfbf"/><stop offset="0.7918" stop-color="#c4c4c4"/><stop offset="0.8082" stop-color="#c4c4c4"/><stop offset="0.8218" stop-color="#bcbcbc"/><stop offset="0.8381" stop-color="#b4b4b4"/><stop offset="0.8517" stop-color="#acacac"/><stop offset="0.8626" stop-color="#a1a1a1"/><stop offset="0.8694" stop-color="#979797"/><stop offset="0.8789" stop-color="#8d8d8d"/><stop offset="0.9170" stop-color="#818181"/><stop offset="1.0000" stop-color="#7c7c7c"/></linearGradient><linearGradient id="s48" x1="0" y1="0" x2="0" y2="1"><stop offset="0.0000" stop-color="#b0b0b0"/><stop offset="0.1864" stop-color="#b1b1b1"/><stop offset="0.3905" stop-color="#b4b4b4"/><stop offset="0.5265" stop-color="#b6b6b6"/><stop offset="0.5946" stop-color="#b8b8b8"/><stop offset="0.6490" stop-color="#bababa"/><stop offset="0.7034" stop-color="#bdbdbd"/><stop offset="0.7578" stop-color="#bfbfbf"/><stop offset="0.7918" stop-color="#c4c4c4"/><stop offset="0.8082" stop-color="#c4c4c4"/><stop offset="0.8218" stop-color="#bcbcbc"/><stop offset="0.8381" stop-color="#b4b4b4"/><stop offset="0.8517" stop-color="#acacac"/><stop offset="0.8626" stop-color="#a1a1a1"/><stop offset="0.8694" stop-color="#979797"/><stop offset="0.8789" stop-color="#8d8d8d"/><stop offset="0.9170" stop-color="#818181"/><stop offset="1.0000" stop-color="#7c7c7c"/></linearGradient><linearGradient id="s49" x1="0" y1="0" x2="0" y2="1"><stop offset="0.0000" stop-color="#b0b0b0"/><stop offset="0.1864" stop-color="#b1b1b1"/><stop offset="0.3905" stop-color="#b4b4b4"/><stop offset="0.5265" stop-color="#b6b6b6"/><stop offset="0.5946" stop-color="#b8b8b8"/><stop offset="0.6490" stop-color="#bababa"/><stop offset="0.7034" stop-color="#bdbdbd"/><stop offset="0.7578" stop-color="#bfbfbf"/><stop offset="0.7918" stop-color="#c4c4c4"/><stop offset="0.8082" stop-color="#c4c4c4"/><stop offset="0.8218" stop-color="#bcbcbc"/><stop offset="0.8381" stop-color="#b4b4b4"/><stop offset="0.8517" stop-color="#acacac"/><stop offset="0.8626" stop-color="#a1a1a1"/><stop offset="0.8694" stop-color="#979797"/><stop offset="0.8789" stop-color="#8d8d8d"/><stop offset="0.9170" stop-color="#818181"/><stop offset="1.0000" stop-color="#7c7c7c"/></linearGradient><linearGradient id="s50" x1="0" y1="0" x2="0" y2="1"><stop offset="0.0000" stop-color="#b0b0b0"/><stop offset="0.1864" stop-color="#b1b1b1"/><stop offset="0.3905" stop-color="#b4b4b4"/><stop offset="0.5265" stop-color="#b6b6b6"/><stop offset="0.5946" stop-color="#b8b8b8"/><stop offset="0.6490" stop-color="#bababa"/><stop offset="0.7034" stop-color="#bdbdbd"/><stop offset="0.7578" stop-color="#bfbfbf"/><stop offset="0.7918" stop-color="#c4c4c4"/><stop offset="0.8082" stop-color="#c4c4c4"/><stop offset="0.8218" stop-color="#bcbcbc"/><stop offset="0.8381" stop-color="#b4b4b4"/><stop offset="0.8517" stop-color="#acacac"/><stop offset="0.8626" stop-color="#a1a1a1"/><stop offset="0.8694" stop-color="#979797"/><stop offset="0.8789" stop-color="#8d8d8d"/><stop offset="0.9170" stop-color="#818181"/><stop offset="1.0000" stop-color="#7c7c7c"/></linearGradient><linearGradient id="s51" x1="0" y1="0" x2="0" y2="1"><stop offset="0.0000" stop-color="#b0b0b0"/><stop offset="0.1864" stop-color="#b1b1b1"/><stop offset="0.3905" stop-color="#b4b4b4"/><stop offset="0.5265" stop-color="#b6b6b6"/><stop offset="0.5946" stop-color="#b8b8b8"/><stop offset="0.6490" stop-color="#bababa"/><stop offset="0.7034" stop-color="#bdbdbd"/><stop offset="0.7578" stop-color="#c0c0c0"/><stop offset="0.7918" stop-color="#c5c5c5"/><stop offset="0.8082" stop-color="#c5c5c5"/><stop offset="0.8218" stop-color="#bcbcbc"/><stop offset="0.8381" stop-color="#b4b4b4"/><stop offset="0.8517" stop-color="#acacac"/><stop offset="0.8626" stop-color="#a1a1a1"/><stop offset="0.8694" stop-color="#979797"/><stop offset="0.8789" stop-color="#8d8d8d"/><stop offset="0.9170" stop-color="#818181"/><stop offset="1.0000" stop-color="#7c7c7c"/></linearGradient><linearGradient id="s52" x1="0" y1="0" x2="0" y2="1"><stop offset="0.0000" stop-color="#b0b0b0"/><stop offset="0.1864" stop-color="#b1b1b1"/><stop offset="0.3905" stop-color="#b4b4b4"/><stop offset="0.5265" stop-color="#b6b6b6"/><stop offset="0.5946" stop-color="#b8b8b8"/><stop offset="0.6490" stop-color="#bababa"/><stop offset="0.7034" stop-color="#bdbdbd"/><stop offset="0.7578" stop-color="#c0c0c0"/><stop offset="0.7918" stop-color="#c5c5c5"/><stop offset="0.8082" stop-color="#c5c5c5"/><stop offset="0.8218" stop-color="#bcbcbc"/><stop offset="0.8381" stop-color="#b4b4b4"/><stop offset="0.8517" stop-color="#acacac"/><stop offset="0.8626" stop-color="#a1a1a1"/><stop offset="0.8694" stop-color="#979797"/><stop offset="0.8789" stop-color="#8d8d8d"/><stop offset="0.9170" stop-color="#818181"/><stop offset="1.0000" stop-color="#7c7c7c"/></linearGradient><linearGradient id="s53" x1="0" y1="0" x2="0" y2="1"><stop offset="0.0000" stop-color="#b0b0b0"/><stop offset="0.1864" stop-color="#b1b1b1"/><stop offset="0.3905" stop-color="#b4b4b4"/><stop offset="0.5265" stop-color="#b6b6b6"/><stop offset="0.5946" stop-color="#b8b8b8"/><stop offset="0.6490" stop-color="#bababa"/><stop offset="0.7034" stop-color="#bebebe"/><stop offset="0.7578" stop-color="#c0c0c0"/><stop offset="0.7918" stop-color="#c5c5c5"/><stop offset="0.8082" stop-color="#c5c5c5"/><stop offset="0.8218" stop-color="#bcbcbc"/><stop offset="0.8381" stop-color="#b4b4b4"/><stop offset="0.8517" stop-color="#acacac"/><stop offset="0.8626" stop-color="#a1a1a1"/><stop offset="0.8694" stop-color="#979797"/><stop offset="0.8789" stop-color="#8c8c8c"/><stop offset="0.9170" stop-color="#818181"/><stop offset="1.0000" stop-color="#7c7c7c"/></linearGradient><linearGradient id="s54" x1="0" y1="0" x2="0" y2="1"><stop offset="0.0000" stop-color="#b0b0b0"/><stop offset="0.1864" stop-color="#b1b1b1"/><stop offset="0.3905" stop-color="#b4b4b4"/><stop offset="0.5265" stop-color="#b6b6b6"/><stop offset="0.5946" stop-color="#b8b8b8"/><stop offset="0.6490" stop-color="#bbbbbb"/><stop offset="0.7034" stop-color="#bebebe"/><stop offset="0.7578" stop-color="#c1c1c1"/><stop offset="0.7918" stop-color="#c6c6c6"/><stop offset="0.8082" stop-color="#c6c6c6"/><stop offset="0.8218" stop-color="#bcbcbc"/><stop offset="0.8381" stop-color="#b4b4b4"/><stop offset="0.8517" stop-color="#ababab"/><stop offset="0.8626" stop-color="#a1a1a1"/><stop offset="0.8694" stop-color="#979797"/><stop offset="0.8789" stop-color="#8c8c8c"/><stop offset="0.9170" stop-color="#818181"/><stop offset="1.0000" stop-color="#7c7c7c"/></linearGradient><linearGradient id="s55" x1="0" y1="0" x2="0" y2="1"><stop offset="0.0000" stop-color="#b0b0b0"/><stop offset="0.1864" stop-color="#b1b1b1"/><stop offset="0.3905" stop-color="#b4b4b4"/><stop offset="0.5265" stop-color="#b6b6b6"/><stop offset="0.5946" stop-color="#b8b8b8"/><stop offset="0.6490" stop-color="#bbbbbb"/><stop offset="0.7034" stop-color="#bebebe"/><stop offset="0.7578" stop-color="#c1c1c1"/><stop offset="0.7918" stop-color="#c6c6c6"/><stop offset="0.8082" stop-color="#c6c6c6"/><stop offset="0.8218" stop-color="#bcbcbc"/><stop offset="0.8381" stop-color="#b4b4b4"/><stop offset="0.8517" stop-color="#ababab"/><stop offset="0.8626" stop-color="#a1a1a1"/><stop offset="0.8694" stop-color="#979797"/><stop offset="0.8789" stop-color="#8c8c8c"/><stop offset="0.9170" stop-color="#818181"/><stop offset="1.0000" stop-color="#7c7c7c"/></linearGradient><linearGradient id="s56" x1="0" y1="0" x2="0" y2="1"><stop offset="0.0000" stop-color="#b0b0b0"/><stop offset="0.1864" stop-color="#b1b1b1"/><stop offset="0.3905" stop-color="#b4b4b4"/><stop offset="0.5265" stop-color="#b6b6b6"/><stop offset="0.5946" stop-color="#b8b8b8"/><stop offset="0.6490" stop-color="#bbbbbb"/><stop offset="0.7034" stop-color="#bebebe"/><stop offset="0.7578" stop-color="#c2c2c2"/><stop offset="0.7918" stop-color="#c6c6c6"/><stop offset="0.8082" stop-color="#c6c6c6"/><stop offset="0.8218" stop-color="#bbbbbb"/><stop offset="0.8381" stop-color="#b4b4b4"/><stop offset="0.8517" stop-color="#ababab"/><stop offset="0.8626" stop-color="#a1a1a1"/><stop offset="0.8694" stop-color="#979797"/><stop offset="0.8789" stop-color="#8c8c8c"/><stop offset="0.9170" stop-color="#818181"/><stop offset="1.0000" stop-color="#7c7c7c"/></linearGradient><linearGradient id="s57" x1="0" y1="0" x2="0" y2="1"><stop offset="0.0000" stop-color="#b0b0b0"/><stop offset="0.1864" stop-color="#b1b1b1"/><stop offset="0.3905" stop-color="#b4b4b4"/><stop offset="0.5265" stop-color="#b6b6b6"/><stop offset="0.5946" stop-color="#b8b8b8"/><stop offset="0.6490" stop-color="#bbbbbb"/><stop offset="0.7034" stop-color="#bfbfbf"/><stop offset="0.7578" stop-color="#c2c2c2"/><stop offset="0.7918" stop-color="#c7c7c7"/><stop offset="0.8082" stop-color="#c7c7c7"/><stop offset="0.8218" stop-color="#bbbbbb"/><stop offset="0.8381" stop-color="#b4b4b4"/><stop offset="0.8517" stop-color="#ababab"/><stop offset="0.8626" stop-color="#a1a1a1"/><stop offset="0.8694" stop-color="#969696"/><stop offset="0.8789" stop-color="#8c8c8c"/><stop offset="0.9170" stop-color="#818181"/><stop offset="1.0000" stop-color="#7c7c7c"/></linearGradient><linearGradient id="s58" x1="0" y1="0" x2="0" y2="1"><stop offset="0.0000" stop-color="#b0b0b0"/><stop offset="0.1864" stop-color="#b1b1b1"/><stop offset="0.3905" stop-color="#b4b4b4"/><stop offset="0.5265" stop-color="#b6b6b6"/><stop offset="0.5946" stop-color="#b8b8b8"/><stop offset="0.6490" stop-color="#bbbbbb"/><stop offset="0.7034" stop-color="#bfbfbf"/><stop offset="0.7578" stop-color="#c2c2c2"/><stop offset="0.7918" stop-color="#c7c7c7"/><stop offset="0.8082" stop-color="#c7c7c7"/><stop offset="0.8218" stop-color="#bbbbbb"/><stop offset="0.8381" stop-color="#b4b4b4"/><stop offset="0.8517" stop-color="#ababab"/><stop offset="0.8626" stop-color="#a1a1a1"/><stop offset="0.8694" stop-color="#969696"/><stop offset="0.8789" stop-color="#8c8c8c"/><stop offset="0.9170" stop-color="#818181"/><stop offset="1.0000" stop-color="#7c7c7c"/></linearGradient><linearGradient id="s59" x1="0" y1="0" x2="0" y2="1"><stop offset="0.0000" stop-color="#b0b0b0"/><stop offset="0.1864" stop-color="#b1b1b1"/><stop offset="0.3905" stop-color="#b4b4b4"/><stop offset="0.5265" stop-color="#b6b6b6"/><stop offset="0.5946" stop-color="#b8b8b8"/><stop offset="0.6490" stop-color="#bbbbbb"/><stop offset="0.7034" stop-color="#bfbfbf"/><stop offset="0.7578" stop-color="#c2c2c2"/><stop offset="0.7918" stop-color="#c7c7c7"/><stop offset="0.8082" stop-color="#c7c7c7"/><stop offset="0.8218" stop-color="#bbbbbb"/><stop offset="0.8381" stop-color="#b4b4b4"/><stop offset="0.8517" stop-color="#ababab"/><stop offset="0.8626" stop-color="#a1a1a1"/><stop offset="0.8694" stop-color="#969696"/><stop offset="0.8789" stop-color="#8c8c8c"/><stop offset="0.9170" stop-color="#818181"/><stop offset="1.0000" stop-color="#7c7c7c"/></linearGradient>
<filter id="hb" filterUnits="userSpaceOnUse" x="255" y="163" width="2471" height="735" color-interpolation-filters="sRGB"><feGaussianBlur stdDeviation="20 0"/></filter>
<filter id="b0" filterUnits="userSpaceOnUse" x="315" y="103" width="2351" height="855" color-interpolation-filters="sRGB"><feGaussianBlur stdDeviation="0.7"/></filter>
<filter id="b1" filterUnits="userSpaceOnUse" x="315" y="103" width="2351" height="855" color-interpolation-filters="sRGB"><feGaussianBlur stdDeviation="0.8"/></filter>
<filter id="b2" filterUnits="userSpaceOnUse" x="315" y="103" width="2351" height="855" color-interpolation-filters="sRGB"><feGaussianBlur stdDeviation="1.0"/></filter>
<filter id="b3" filterUnits="userSpaceOnUse" x="315" y="103" width="2351" height="855" color-interpolation-filters="sRGB"><feGaussianBlur stdDeviation="1.2"/></filter>
<filter id="b4" filterUnits="userSpaceOnUse" x="315" y="103" width="2351" height="855" color-interpolation-filters="sRGB"><feGaussianBlur stdDeviation="1.5"/></filter>
<filter id="b5" filterUnits="userSpaceOnUse" x="315" y="103" width="2351" height="855" color-interpolation-filters="sRGB"><feGaussianBlur stdDeviation="2.0"/></filter>
<filter id="b6" filterUnits="userSpaceOnUse" x="315" y="103" width="2351" height="855" color-interpolation-filters="sRGB"><feGaussianBlur stdDeviation="2.5"/></filter>
<filter id="b7" filterUnits="userSpaceOnUse" x="315" y="103" width="2351" height="855" color-interpolation-filters="sRGB"><feGaussianBlur stdDeviation="3.0"/></filter>
<filter id="b8" filterUnits="userSpaceOnUse" x="315" y="103" width="2351" height="855" color-interpolation-filters="sRGB"><feGaussianBlur stdDeviation="4.0"/></filter>
<filter id="b9" filterUnits="userSpaceOnUse" x="315" y="103" width="2351" height="855" color-interpolation-filters="sRGB"><feGaussianBlur stdDeviation="6.0"/></filter>
<filter id="b10" filterUnits="userSpaceOnUse" x="315" y="103" width="2351" height="855" color-interpolation-filters="sRGB"><feGaussianBlur stdDeviation="10.0"/></filter>
<filter id="b11" filterUnits="userSpaceOnUse" x="315" y="103" width="2351" height="855" color-interpolation-filters="sRGB"><feGaussianBlur stdDeviation="12.0"/></filter>
<filter id="spf" filterUnits="userSpaceOnUse" primitiveUnits="userSpaceOnUse" x="375" y="163" width="2231" height="735" color-interpolation-filters="sRGB"><feTurbulence type="fractalNoise" baseFrequency="0.45 0.14" numOctaves="2" seed="7" result="t"/><feColorMatrix in="t" type="matrix" values="1 0 0 0 0  1 0 0 0 0  1 0 0 0 0  0 0 0 0 1" result="n0"/><feFlood flood-color="#fff" x="375" y="163" width="1" height="1" result="d"/><feComposite in="d" in2="d" operator="over" x="375" y="163" width="2" height="3" result="d2"/><feTile in="d2" x="375" y="163" width="2231" height="735" result="grid"/><feComposite in="n0" in2="grid" operator="in" result="s"/><feOffset in="s" dx="1" result="s1"/><feMerge result="sx"><feMergeNode in="s"/><feMergeNode in="s1"/></feMerge><feOffset in="sx" dy="1" result="sy1"/><feOffset in="sx" dy="2" result="sy2"/><feMerge result="nb"><feMergeNode in="sx"/><feMergeNode in="sy1"/><feMergeNode in="sy2"/></feMerge><feComponentTransfer in="nb" result="n"><feFuncR type="table" tableValues="0.000 0.000 0.000 0.000 0.064 0.142 0.197 0.249 0.293 0.332 0.366 0.394 0.419 0.442 0.464 0.486 0.507 0.529 0.547 0.564 0.580 0.596 0.611 0.627 0.644 0.661 0.678 0.698 0.716 0.738 0.760 0.760 0.760"/><feFuncG type="table" tableValues="0.000 0.000 0.000 0.000 0.064 0.142 0.197 0.249 0.293 0.332 0.366 0.394 0.419 0.442 0.464 0.486 0.507 0.529 0.547 0.564 0.580 0.596 0.611 0.627 0.644 0.661 0.678 0.698 0.716 0.738 0.760 0.760 0.760"/><feFuncB type="table" tableValues="0.000 0.000 0.000 0.000 0.064 0.142 0.197 0.249 0.293 0.332 0.366 0.394 0.419 0.442 0.464 0.486 0.507 0.529 0.547 0.564 0.580 0.596 0.611 0.627 0.644 0.661 0.678 0.698 0.716 0.738 0.760 0.760 0.760"/><feFuncA type="linear" slope="0" intercept="1"/></feComponentTransfer><feComposite in="SourceGraphic" in2="n" operator="arithmetic" k1="0" k2="1" k3="0.63" k4="-0.3150" result="v"/><feComponentTransfer in="v"><feFuncR type="table" tableValues="0 0 0 0 .5 1 1 1 .5"/><feFuncG type="table" tableValues="0 0 .5 1 1 1 .5 0 0"/><feFuncB type="table" tableValues=".5 1 1 1 .5 0 0 0 0"/></feComponentTransfer></filter>
</defs>
<g filter="url(#spf)">
<g filter="url(#hb)"><rect x="295" y="163" width="40" height="735" fill="url(#s0)"/><rect x="335" y="163" width="40" height="735" fill="url(#s1)"/><rect x="375" y="163" width="40" height="735" fill="url(#s2)"/><rect x="415" y="163" width="40" height="735" fill="url(#s3)"/><rect x="455" y="163" width="40" height="735" fill="url(#s4)"/><rect x="495" y="163" width="40" height="735" fill="url(#s5)"/><rect x="535" y="163" width="40" height="735" fill="url(#s6)"/><rect x="575" y="163" width="40" height="735" fill="url(#s7)"/><rect x="615" y="163" width="40" height="735" fill="url(#s8)"/><rect x="655" y="163" width="40" height="735" fill="url(#s9)"/><rect x="695" y="163" width="40" height="735" fill="url(#s10)"/><rect x="735" y="163" width="40" height="735" fill="url(#s11)"/><rect x="775" y="163" width="40" height="735" fill="url(#s12)"/><rect x="815" y="163" width="40" height="735" fill="url(#s13)"/><rect x="855" y="163" width="40" height="735" fill="url(#s14)"/><rect x="895" y="163" width="40" height="735" fill="url(#s15)"/><rect x="935" y="163" width="40" height="735" fill="url(#s16)"/><rect x="975" y="163" width="40" height="735" fill="url(#s17)"/><rect x="1015" y="163" width="40" height="735" fill="url(#s18)"/><rect x="1055" y="163" width="40" height="735" fill="url(#s19)"/><rect x="1095" y="163" width="40" height="735" fill="url(#s20)"/><rect x="1135" y="163" width="40" height="735" fill="url(#s21)"/><rect x="1175" y="163" width="40" height="735" fill="url(#s22)"/><rect x="1215" y="163" width="40" height="735" fill="url(#s23)"/><rect x="1255" y="163" width="40" height="735" fill="url(#s24)"/><rect x="1295" y="163" width="40" height="735" fill="url(#s25)"/><rect x="1335" y="163" width="40" height="735" fill="url(#s26)"/><rect x="1375" y="163" width="40" height="735" fill="url(#s27)"/><rect x="1415" y="163" width="40" height="735" fill="url(#s28)"/><rect x="1455" y="163" width="40" height="735" fill="url(#s29)"/><rect x="1495" y="163" width="40" height="735" fill="url(#s30)"/><rect x="1535" y="163" width="40" height="735" fill="url(#s31)"/><rect x="1575" y="163" width="40" height="735" fill="url(#s32)"/><rect x="1615" y="163" width="40" height="735" fill="url(#s33)"/><rect x="1655" y="163" width="40" height="735" fill="url(#s34)"/><rect x="1695" y="163" width="40" height="735" fill="url(#s35)"/><rect x="1735" y="163" width="40" height="735" fill="url(#s36)"/><rect x="1775" y="163" width="40" height="735" fill="url(#s37)"/><rect x="1815" y="163" width="40" height="735" fill="url(#s38)"/><rect x="1855" y="163" width="40" height="735" fill="url(#s39)"/><rect x="1895" y="163" width="40" height="735" fill="url(#s40)"/><rect x="1935" y="163" width="40" height="735" fill="url(#s41)"/><rect x="1975" y="163" width="40" height="735" fill="url(#s42)"/><rect x="2015" y="163" width="40" height="735" fill="url(#s43)"/><rect x="2055" y="163" width="40" height="735" fill="url(#s44)"/><rect x="2095" y="163" width="40" height="735" fill="url(#s45)"/><rect x="2135" y="163" width="40" height="735" fill="url(#s46)"/><rect x="2175" y="163" width="40" height="735" fill="url(#s47)"/><rect x="2215" y="163" width="40" height="735" fill="url(#s48)"/><rect x="2255" y="163" width="40" height="735" fill="url(#s49)"/><rect x="2295" y="163" width="40" height="735" fill="url(#s50)"/><rect x="2335" y="163" width="40" height="735" fill="url(#s51)"/><rect x="2375" y="163" width="40" height="735" fill="url(#s52)"/><rect x="2415" y="163" width="40" height="735" fill="url(#s53)"/><rect x="2455" y="163" width="40" height="735" fill="url(#s54)"/><rect x="2495" y="163" width="40" height="735" fill="url(#s55)"/><rect x="2535" y="163" width="40" height="735" fill="url(#s56)"/><rect x="2575" y="163" width="40" height="735" fill="url(#s57)"/><rect x="2615" y="163" width="40" height="735" fill="url(#s58)"/><rect x="2655" y="163" width="40" height="735" fill="url(#s59)"/></g>
<g fill="none" stroke-linecap="round">
<path d="M370 661 L396 661 C410 666 428 690 446 700 L475 702" stroke="#d9d9d9" stroke-width="4" filter="url(#b2)" style="mix-blend-mode:lighten"/>
<path d="M370 730 H396" stroke="#d6d6d6" stroke-width="4" filter="url(#b2)" style="mix-blend-mode:lighten"/>
<path d="M370 763 H400" stroke="#d6d6d6" stroke-width="4" filter="url(#b2)" style="mix-blend-mode:lighten"/>
<path d="M370 777 L410 783" stroke="#dbdbdb" stroke-width="4" filter="url(#b2)" style="mix-blend-mode:lighten"/>
<path d="M370 748 H392" stroke="#cccccc" stroke-width="4" filter="url(#b2)" style="mix-blend-mode:lighten"/>
<path d="M370 712 H388" stroke="#c9c9c9" stroke-width="4" filter="url(#b2)" style="mix-blend-mode:lighten"/>
<path d="M576 642 L576 805" stroke="#cfcfcf" stroke-width="6" filter="url(#b4)" style="mix-blend-mode:lighten"/>
<path d="M576 650 L577 700" stroke="#d4d4d4" stroke-width="4" filter="url(#b2)" style="mix-blend-mode:lighten"/>
<path d="M626 645 L626 691" stroke="#c4c4c4" stroke-width="5" filter="url(#b4)" style="mix-blend-mode:lighten"/>
<path d="M598 611 H637" stroke="#c9c9c9" stroke-width="4" filter="url(#b2)" style="mix-blend-mode:lighten"/>
<path d="M600 611 V650" stroke="#c4c4c4" stroke-width="4" filter="url(#b4)" style="mix-blend-mode:lighten"/>
<path d="M912 668 L905 800" stroke="#dbdbdb" stroke-width="10" filter="url(#b4)" style="mix-blend-mode:lighten"/>
<path d="M911 680 L909 732" stroke="#f2f2f2" stroke-width="3" filter="url(#b0)" style="mix-blend-mode:lighten"/>
<path d="M908 754 L907 772" stroke="#f2f2f2" stroke-width="3" filter="url(#b0)" style="mix-blend-mode:lighten"/>
<path d="M905 800 L903 815" stroke="#c2c2c2" stroke-width="6" filter="url(#b4)" style="mix-blend-mode:lighten"/>
<path d="M913 648 L912 668" stroke="#c4c4c4" stroke-width="6" filter="url(#b4)" style="mix-blend-mode:lighten"/>
<path d="M938 668 L931 800" stroke="#dbdbdb" stroke-width="10" filter="url(#b4)" style="mix-blend-mode:lighten"/>
<path d="M937 680 L935 732" stroke="#f2f2f2" stroke-width="3" filter="url(#b0)" style="mix-blend-mode:lighten"/>
<path d="M934 754 L933 772" stroke="#f2f2f2" stroke-width="3" filter="url(#b0)" style="mix-blend-mode:lighten"/>
<path d="M931 800 L929 815" stroke="#c2c2c2" stroke-width="6" filter="url(#b4)" style="mix-blend-mode:lighten"/>
<path d="M939 648 L938 668" stroke="#c4c4c4" stroke-width="6" filter="url(#b4)" style="mix-blend-mode:lighten"/>
<path d="M964 668 L957 800" stroke="#dbdbdb" stroke-width="10" filter="url(#b4)" style="mix-blend-mode:lighten"/>
<path d="M963 680 L961 732" stroke="#f2f2f2" stroke-width="3" filter="url(#b0)" style="mix-blend-mode:lighten"/>
<path d="M960 754 L959 772" stroke="#f2f2f2" stroke-width="3" filter="url(#b0)" style="mix-blend-mode:lighten"/>
<path d="M957 800 L955 815" stroke="#c2c2c2" stroke-width="6" filter="url(#b4)" style="mix-blend-mode:lighten"/>
<path d="M965 648 L964 668" stroke="#c4c4c4" stroke-width="6" filter="url(#b4)" style="mix-blend-mode:lighten"/>
<path d="M988 668 L981 800" stroke="#dbdbdb" stroke-width="10" filter="url(#b4)" style="mix-blend-mode:lighten"/>
<path d="M987 680 L985 732" stroke="#f2f2f2" stroke-width="3" filter="url(#b0)" style="mix-blend-mode:lighten"/>
<path d="M984 754 L983 772" stroke="#f2f2f2" stroke-width="3" filter="url(#b0)" style="mix-blend-mode:lighten"/>
<path d="M981 800 L979 815" stroke="#c2c2c2" stroke-width="6" filter="url(#b4)" style="mix-blend-mode:lighten"/>
<path d="M989 648 L988 668" stroke="#c4c4c4" stroke-width="6" filter="url(#b4)" style="mix-blend-mode:lighten"/>
<path d="M1013 668 L1006 800" stroke="#dbdbdb" stroke-width="10" filter="url(#b4)" style="mix-blend-mode:lighten"/>
<path d="M1012 680 L1010 732" stroke="#f2f2f2" stroke-width="3" filter="url(#b0)" style="mix-blend-mode:lighten"/>
<path d="M1009 754 L1008 772" stroke="#f2f2f2" stroke-width="3" filter="url(#b0)" style="mix-blend-mode:lighten"/>
<path d="M1006 800 L1004 815" stroke="#c2c2c2" stroke-width="6" filter="url(#b4)" style="mix-blend-mode:lighten"/>
<path d="M1014 648 L1013 668" stroke="#c4c4c4" stroke-width="6" filter="url(#b4)" style="mix-blend-mode:lighten"/>
<path d="M900 720 H1018" stroke="#cccccc" stroke-width="90" stroke-opacity="0.7" stroke-linecap="butt" filter="url(#b10)" style="mix-blend-mode:lighten"/>
<path d="M900 761 H1330" stroke="#d4d4d4" stroke-width="5" filter="url(#b4)" style="mix-blend-mode:lighten"/>
<path d="M1130 772 H1350" stroke="#cfcfcf" stroke-width="5" filter="url(#b4)" style="mix-blend-mode:lighten"/>
<path d="M640 765 H900" stroke="#c9c9c9" stroke-width="6" filter="url(#b5)" style="mix-blend-mode:lighten"/>
<path d="M1133 639 L1133 744" stroke="#c7c7c7" stroke-width="6" filter="url(#b5)" style="mix-blend-mode:lighten"/>
<path d="M1400 477 L1400 579" stroke="#c7c7c7" stroke-width="2" filter="url(#b1)" style="mix-blend-mode:lighten"/>
<path d="M1503 528 L1503 616" stroke="#c4c4c4" stroke-width="2" filter="url(#b1)" style="mix-blend-mode:lighten"/>
<path d="M1540 665 V765" stroke="#cdcdcd" stroke-width="70" stroke-opacity="0.8" stroke-linecap="butt" filter="url(#b11)" style="mix-blend-mode:lighten"/>
<path d="M1490 660 L1510 672" stroke="#e6e6e6" stroke-width="5" filter="url(#b2)" style="mix-blend-mode:lighten"/>
<path d="M1494 700 L1508 712" stroke="#dbdbdb" stroke-width="5" filter="url(#b2)" style="mix-blend-mode:lighten"/>
<path d="M1497 720 L1517 731" stroke="#e6e6e6" stroke-width="5" filter="url(#b2)" style="mix-blend-mode:lighten"/>
<path d="M1500 745 L1515 752" stroke="#e0e0e0" stroke-width="5" filter="url(#b2)" style="mix-blend-mode:lighten"/>
<path d="M1505 770 L1530 782" stroke="#e6e6e6" stroke-width="5" filter="url(#b2)" style="mix-blend-mode:lighten"/>
<path d="M1512 786 L1525 791" stroke="#e0e0e0" stroke-width="5" filter="url(#b2)" style="mix-blend-mode:lighten"/>
<path d="M1500 800 L1510 805" stroke="#d9d9d9" stroke-width="5" filter="url(#b2)" style="mix-blend-mode:lighten"/>
<path d="M1497 818 L1502 820" stroke="#c7c7c7" stroke-width="5" filter="url(#b2)" style="mix-blend-mode:lighten"/>
<path d="M1495 828 L1499 830" stroke="#bfbfbf" stroke-width="5" filter="url(#b2)" style="mix-blend-mode:lighten"/>
<path d="M1493 838 L1496 840" stroke="#b8b8b8" stroke-width="5" filter="url(#b2)" style="mix-blend-mode:lighten"/>
<path d="M1497 855 L1502 856" stroke="#adadad" stroke-width="5" filter="url(#b2)" style="mix-blend-mode:lighten"/>
<path d="M1523 718 L1538 735" stroke="#e6e6e6" stroke-width="5" filter="url(#b2)" style="mix-blend-mode:lighten"/>
<path d="M1530 760 L1545 775" stroke="#e0e0e0" stroke-width="5" filter="url(#b2)" style="mix-blend-mode:lighten"/>
<path d="M1525 780 L1545 795" stroke="#dbdbdb" stroke-width="5" filter="url(#b2)" style="mix-blend-mode:lighten"/>
<path d="M1515 690 L1530 700" stroke="#d6d6d6" stroke-width="5" filter="url(#b2)" style="mix-blend-mode:lighten"/>
<path d="M1540 740 L1552 748" stroke="#d6d6d6" stroke-width="5" filter="url(#b2)" style="mix-blend-mode:lighten"/>
<path d="M1558 660 C1570 650 1584 660 1583 690 C1582 712 1570 716 1562 705" stroke="#d9d9d9" stroke-width="5" filter="url(#b3)" style="mix-blend-mode:lighten"/>
<path d="M1560 690 C1575 700 1580 720 1570 730" stroke="#d9d9d9" stroke-width="4" filter="url(#b3)" style="mix-blend-mode:lighten"/>
<path d="M1551 755 H1640" stroke="#d9d9d9" stroke-width="4" filter="url(#b3)" style="mix-blend-mode:lighten"/>
<path d="M1804 667 L1804 718" stroke="#d4d4d4" stroke-width="16" filter="url(#b8)" style="mix-blend-mode:lighten"/>
<path d="M1804 718 L1806 780" stroke="#c7c7c7" stroke-width="8" filter="url(#b7)" style="mix-blend-mode:lighten"/>
<path d="M1909 653 L1909 735" stroke="#cfcfcf" stroke-width="5" filter="url(#b4)" style="mix-blend-mode:lighten"/>
<path d="M1932 696 C1960 694 1990 688 2022 677 L2076 676" stroke="#d6d6d6" stroke-width="4" filter="url(#b3)" style="mix-blend-mode:lighten"/>
<path d="M2135 687 L2206 687 L2252 681" stroke="#d1d1d1" stroke-width="4" filter="url(#b3)" style="mix-blend-mode:lighten"/>
<path d="M1950 760 H2150" stroke="#c4c4c4" stroke-width="6" filter="url(#b5)" style="mix-blend-mode:lighten"/>
<path d="M2236 642 L2236 784" stroke="#d1d1d1" stroke-width="9" filter="url(#b6)" style="mix-blend-mode:lighten"/>
<path d="M2236 660 V690" stroke="#dbdbdb" stroke-width="6" filter="url(#b4)" style="mix-blend-mode:lighten"/>
<path d="M2236 750 V770" stroke="#dbdbdb" stroke-width="6" filter="url(#b4)" style="mix-blend-mode:lighten"/>
<path d="M2312 655 H2371" stroke="#dbdbdb" stroke-width="5" filter="url(#b3)" style="mix-blend-mode:lighten"/>
<path d="M2520 655 H2606" stroke="#e0e0e0" stroke-width="5" filter="url(#b3)" style="mix-blend-mode:lighten"/>
<path d="M2262 661 H2312" stroke="#cccccc" stroke-width="5" filter="url(#b3)" style="mix-blend-mode:lighten"/>
<path d="M2423 661 H2448" stroke="#cccccc" stroke-width="5" filter="url(#b3)" style="mix-blend-mode:lighten"/>
<path d="M2258 667 H2277" stroke="#cccccc" stroke-width="5" filter="url(#b3)" style="mix-blend-mode:lighten"/>
<path d="M2413 677 H2501" stroke="#d4d4d4" stroke-width="5" filter="url(#b3)" style="mix-blend-mode:lighten"/>
<path d="M2180 684 H2203" stroke="#d1d1d1" stroke-width="5" filter="url(#b3)" style="mix-blend-mode:lighten"/>
<path d="M2413 694 H2472" stroke="#d4d4d4" stroke-width="5" filter="url(#b3)" style="mix-blend-mode:lighten"/>
<path d="M2365 706 H2404" stroke="#d6d6d6" stroke-width="5" filter="url(#b3)" style="mix-blend-mode:lighten"/>
<path d="M2423 706 H2491" stroke="#d1d1d1" stroke-width="5" filter="url(#b3)" style="mix-blend-mode:lighten"/>
<path d="M2530 708 H2606" stroke="#e0e0e0" stroke-width="5" filter="url(#b3)" style="mix-blend-mode:lighten"/>
<path d="M2316 723 H2384" stroke="#d1d1d1" stroke-width="5" filter="url(#b3)" style="mix-blend-mode:lighten"/>
<path d="M2510 723 H2606" stroke="#dbdbdb" stroke-width="5" filter="url(#b3)" style="mix-blend-mode:lighten"/>
<path d="M2374 743 H2394" stroke="#d1d1d1" stroke-width="5" filter="url(#b3)" style="mix-blend-mode:lighten"/>
<path d="M2500 743 H2606" stroke="#e0e0e0" stroke-width="5" filter="url(#b3)" style="mix-blend-mode:lighten"/>
<path d="M2394 760 H2559" stroke="#dbdbdb" stroke-width="5" filter="url(#b3)" style="mix-blend-mode:lighten"/>
<path d="M2316 774 H2404" stroke="#d4d4d4" stroke-width="5" filter="url(#b3)" style="mix-blend-mode:lighten"/>
<path d="M2549 774 H2606" stroke="#dbdbdb" stroke-width="5" filter="url(#b3)" style="mix-blend-mode:lighten"/>
<path d="M2413 795 H2501" stroke="#c9c9c9" stroke-width="5" filter="url(#b3)" style="mix-blend-mode:lighten"/>
<path d="M2565 690 V775" stroke="#cccccc" stroke-width="80" stroke-opacity="0.8" stroke-linecap="butt" filter="url(#b11)" style="mix-blend-mode:lighten"/>
<path d="M2567 745 L2567 770" stroke="#ededed" stroke-width="6" filter="url(#b2)" style="mix-blend-mode:lighten"/>
<path d="M2304 750 L2308 764" stroke="#d9d9d9" stroke-width="5" filter="url(#b2)" style="mix-blend-mode:lighten"/>
<path d="M2332 766 L2328 805" stroke="#d6d6d6" stroke-width="5" filter="url(#b3)" style="mix-blend-mode:lighten"/>
<path d="M2266 553 C2290 540 2315 528 2341 527 L2396 529" stroke="#d1d1d1" stroke-width="4" filter="url(#b2)" style="mix-blend-mode:lighten"/>
<path d="M1703 543 L1733 532" stroke="#c7c7c7" stroke-width="3" filter="url(#b2)" style="mix-blend-mode:lighten"/>
<path d="M1905 375 L1905 401" stroke="#cfcfcf" stroke-width="5" filter="url(#b3)" style="mix-blend-mode:lighten"/>
<path d="M1814 482 L1814 543" stroke="#c2c2c2" stroke-width="4" filter="url(#b4)" style="mix-blend-mode:lighten"/>
<path d="M2585 430 V640" stroke="#bfbfbf" stroke-width="40" stroke-opacity="0.7" stroke-linecap="butt" filter="url(#b11)" style="mix-blend-mode:lighten"/>
<path d="M380 420 V700" stroke="#c2c2c2" stroke-width="14" stroke-opacity="0.8" filter="url(#b9)" style="mix-blend-mode:lighten"/>
<path d="M826 548 H842" stroke="#d1d1d1" stroke-width="5" filter="url(#b4)" style="mix-blend-mode:lighten"/>
</g>
</g>
<g fill="none" stroke="#000" stroke-width="1" shape-rendering="crispEdges">
<rect x="374.5" y="162.5" width="2232" height="736"/>
<path d="M671.5 162v23M671.5 898v-23M969.5 162v23M969.5 898v-23M1266.5 162v23M1266.5 898v-23M1564.5 162v23M1564.5 898v-23M1862.5 162v23M1862.5 898v-23M2159.5 162v23M2159.5 898v-23M2457.5 162v23M2457.5 898v-23M374 897.5h23M2606 897.5h-23M374 744.5h23M2606 744.5h-23M374 591.5h23M2606 591.5h-23M374 438.5h23M2606 438.5h-23M374 285.5h23M2606 285.5h-23"/>
</g>
<text transform="translate(359.6,526) rotate(-90)" text-anchor="middle" style="font-size:34.7px" filter="url(#thr)">Freq [0, 10875] Hz</text>
<g shape-rendering="crispEdges">
<rect x="374" y="1536" width="75" height="35" fill="rgb(255,255,0)"/>
<rect x="449" y="1360" width="223" height="36" fill="rgb(0,223,255)"/>
<rect x="672" y="1571" width="223" height="35" fill="rgb(255,207,0)"/>
<rect x="895" y="1536" width="149" height="35" fill="rgb(255,255,0)"/>
<rect x="1044" y="1747" width="446" height="35" fill="rgb(175,0,0)"/>
<rect x="1490" y="1782" width="75" height="35" fill="rgb(128,0,0)"/>
<rect x="1565" y="1747" width="1041" height="35" fill="rgb(175,0,0)"/>
</g>
<path d="M411.5 1186V1922M497.5 1186V1922M584.5 1186V1922M670.5 1186V1922M756.5 1186V1922M843.5 1186V1922M929.5 1186V1922M1015.5 1186V1922M1102.5 1186V1922M1188.5 1186V1922M1274.5 1186V1922M1361.5 1186V1922M1447.5 1186V1922M1533.5 1186V1922M1619.5 1186V1922M1706.5 1186V1922M1792.5 1186V1922M1878.5 1186V1922M1965.5 1186V1922M2051.5 1186V1922M2137.5 1186V1922M2224.5 1186V1922M2310.5 1186V1922M2396.5 1186V1922M2483.5 1186V1922M2569.5 1186V1922" fill="none" stroke="#000" stroke-width="1" stroke-dasharray="2 3 1 3" stroke-dashoffset="3" shape-rendering="crispEdges"/>
<path d="M375 1202.5H2606M375 1238.5H2606M375 1273.5H2606M375 1308.5H2606M375 1343.5H2606M375 1378.5H2606M375 1413.5H2606M375 1448.5H2606M375 1483.5H2606M375 1518.5H2606M375 1554.5H2606M375 1589.5H2606M375 1624.5H2606M375 1659.5H2606M375 1694.5H2606M375 1729.5H2606M375 1764.5H2606M375 1799.5H2606M375 1834.5H2606M375 1869.5H2606M375 1904.5H2606" fill="none" stroke="#000" stroke-width="1" stroke-dasharray="2 3 1 3" stroke-dashoffset="6" shape-rendering="crispEdges"/>
<g fill="none" stroke="#000" stroke-width="1" shape-rendering="crispEdges">
<rect x="374.5" y="1185.5" width="2232" height="737"/>
<path d="M411.5 1922v-23M411.5 1185v23M843.5 1922v-23M843.5 1185v23M1274.5 1922v-23M1274.5 1185v23M1706.5 1922v-23M1706.5 1185v23M2137.5 1922v-23M2137.5 1185v23M2569.5 1922v-23M2569.5 1185v23M374 1238.5h23M2606 1238.5h-23M374 1308.5h23M2606 1308.5h-23M374 1378.5h23M2606 1378.5h-23M374 1448.5h23M2606 1448.5h-23M374 1518.5h23M2606 1518.5h-23M374 1589.5h23M2606 1589.5h-23M374 1659.5h23M2606 1659.5h-23M374 1729.5h23M2606 1729.5h-23M374 1799.5h23M2606 1799.5h-23M374 1869.5h23M2606 1869.5h-23"/>
</g>
<filter id="thr" color-interpolation-filters="sRGB" x="0" y="0" width="1" height="1"><feComponentTransfer><feFuncA type="discrete" tableValues="0 1"/></feComponentTransfer></filter>
<g filter="url(#thr)">
<text x="412.0" y="1958" text-anchor="middle">0</text>
<text x="844.0" y="1958" text-anchor="middle">3</text>
<text x="1275.0" y="1958" text-anchor="middle">6</text>
<text x="1707.0" y="1958" text-anchor="middle">9</text>
<text x="2138.0" y="1958" text-anchor="middle">12</text>
<text x="2570.0" y="1958" text-anchor="middle">15</text>
<text x="371.5" y="1251.0" text-anchor="end">2</text>
<text x="371.5" y="1321.0" text-anchor="end">4</text>
<text x="371.5" y="1391.0" text-anchor="end">6</text>
<text x="371.5" y="1461.0" text-anchor="end">8</text>
<text x="371.5" y="1531.0" text-anchor="end">10</text>
<text x="371.5" y="1602.0" text-anchor="end">12</text>
<text x="371.5" y="1672.0" text-anchor="end">14</text>
<text x="371.5" y="1742.0" text-anchor="end">16</text>
<text x="371.5" y="1812.0" text-anchor="end">18</text>
<text x="371.5" y="1882.0" text-anchor="end">20</text>
<text x="1492" y="1987.6" text-anchor="middle" style="font-size:35.4px">Temps en secondes</text>
<text transform="translate(320,1553) rotate(-90)" text-anchor="middle">Unites de sons</text>
</g>
</svg></body></html>
